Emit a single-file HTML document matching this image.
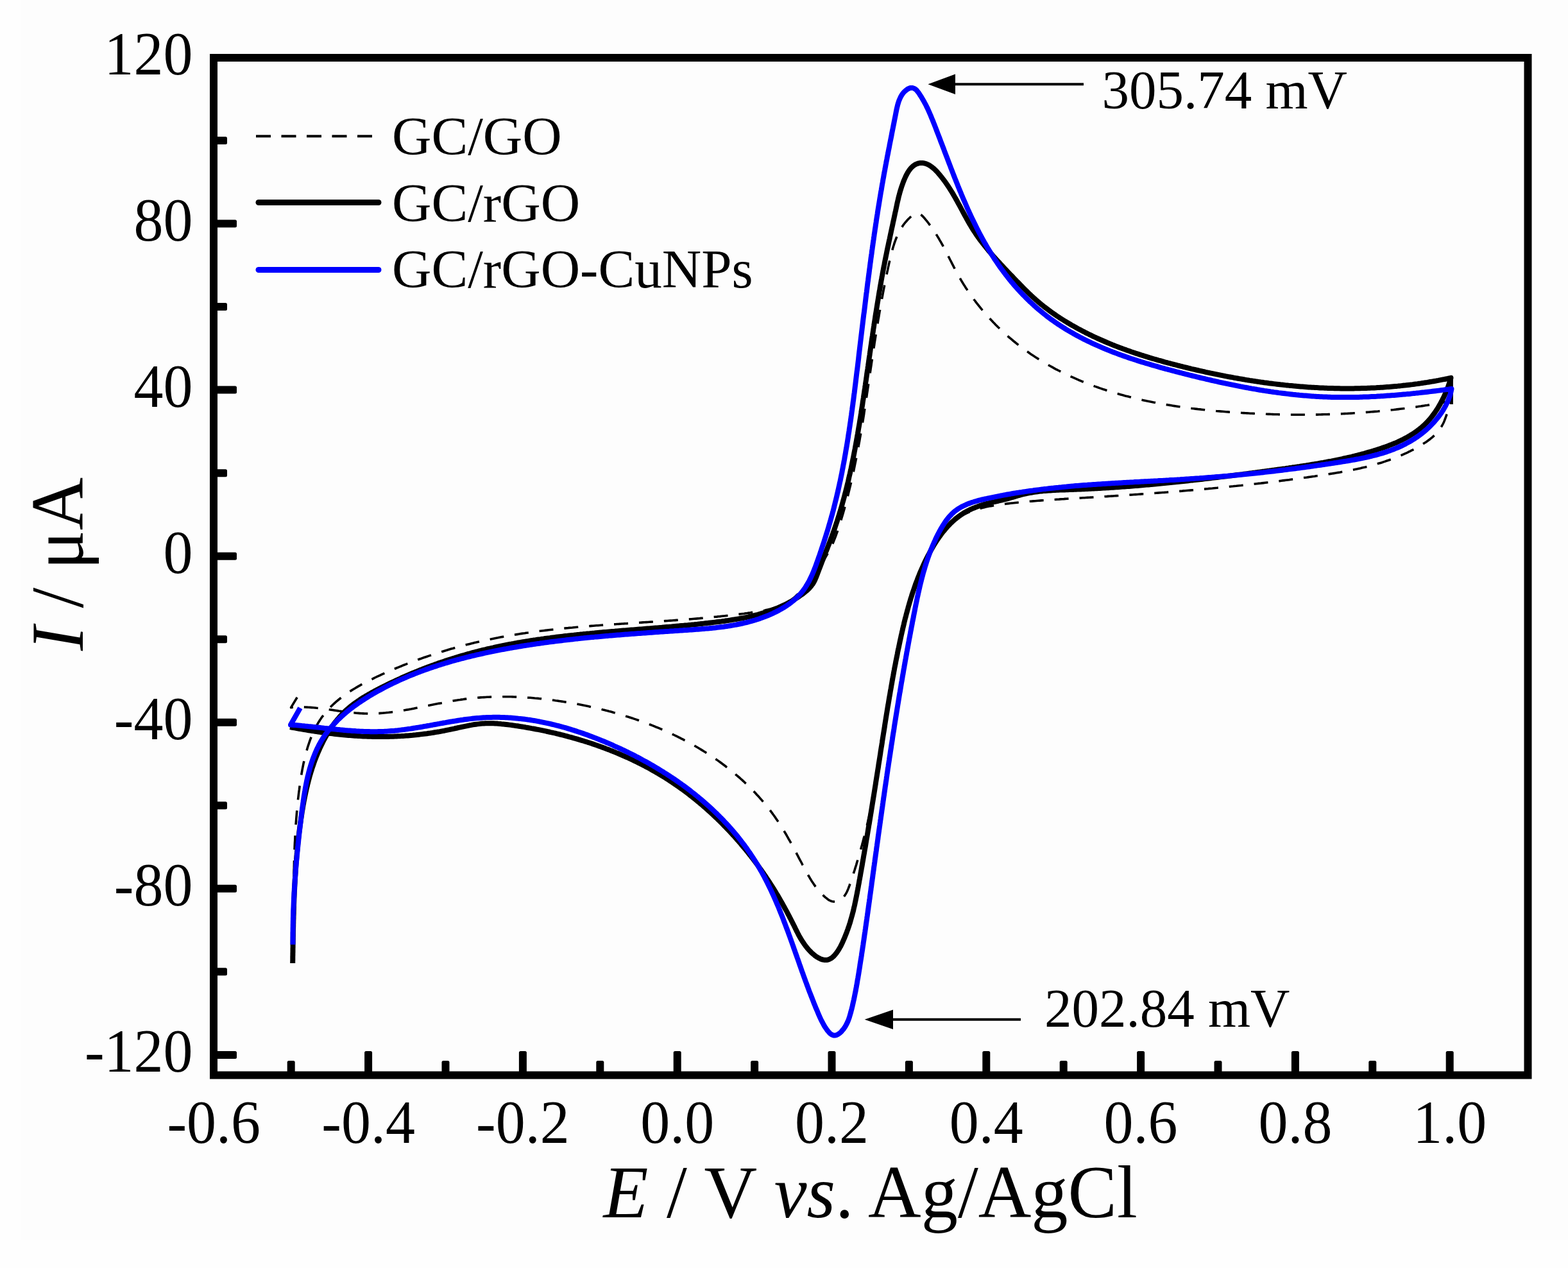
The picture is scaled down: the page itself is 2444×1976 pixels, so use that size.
<!DOCTYPE html>
<html><head><meta charset="utf-8"><title>Cyclic voltammograms</title>
<style>
html,body{margin:0;padding:0;background:#fefefe;}
body{width:2444px;height:1976px;overflow:hidden;}
svg{display:block;}
text{font-family:"Liberation Serif","Times New Roman",serif;fill:#000;}
</style></head><body>
<svg width="2444" height="1976" viewBox="0 0 2444 1976">
<rect x="0" y="0" width="2444" height="1976" fill="#fefefe"/>
<rect x="33" y="0" width="2411" height="1933" fill="#fdfdfd"/>
<g fill="none" stroke-linejoin="round" stroke-linecap="butt">
<path d="M455.5 1480.0 L455.6 1477.4 L455.7 1474.9 L455.8 1472.3 L455.9 1469.8 L456.0 1467.2 L456.1 1464.7 L456.2 1462.1 L456.2 1459.6 L456.3 1457.0 L456.4 1454.5 L456.5 1451.9 L456.5 1449.4 L456.6 1446.9 L456.7 1444.4 L456.7 1441.8 L456.8 1439.3 L456.8 1436.8 L456.9 1434.3 L456.9 1431.8 L457.0 1429.3 L457.0 1426.8 L457.1 1424.3 L457.1 1421.8 L457.2 1419.3 L457.2 1416.8 L457.2 1414.3 L457.3 1411.8 L457.3 1409.3 L457.4 1406.8 L457.4 1404.4 L457.4 1401.9 L457.5 1399.4 L457.5 1396.9 L457.5 1394.4 L457.6 1392.0 L457.6 1389.5 L457.6 1387.0 L457.7 1384.6 L457.7 1382.1 L457.8 1379.6 L457.8 1377.2 L457.8 1374.7 L457.9 1372.2 L457.9 1369.8 L458.0 1367.3 L458.0 1364.8 L458.1 1362.4 L458.1 1359.9 L458.2 1357.5 L458.2 1355.0 L458.3 1352.5 L458.3 1350.1 L458.4 1347.6 L458.4 1345.2 L458.5 1342.7 L458.6 1340.2 L458.6 1337.8 L458.7 1335.3 L458.8 1332.9 L458.9 1330.4 L459.0 1327.9 L459.1 1325.5 L459.1 1323.0 L459.2 1320.5 L459.3 1318.1 L459.4 1315.6 L459.5 1313.2 L459.7 1310.7 L459.8 1308.2 L459.9 1305.8 L460.0 1303.3 L460.2 1300.8 L460.3 1298.3 L460.4 1295.9 L460.6 1293.4 L460.7 1290.9 L460.9 1288.4 L461.0 1286.0 L461.2 1283.5 L461.4 1281.0 L461.6 1278.5 L461.8 1276.0 L462.0 1273.5 L462.2 1271.0 L462.4 1268.5 L462.6 1266.0 L462.8 1263.6 L463.0 1261.0 L463.3 1258.5 L463.5 1256.0 L463.8 1253.5 L464.0 1251.0 L464.3 1248.5 L464.5 1246.0 L464.8 1243.5 L465.1 1240.9 L465.4 1238.4 L465.7 1235.9 L466.0 1233.3 L466.4 1230.8 L466.7 1228.3 L467.0 1225.7 L467.4 1223.2 L467.7 1220.6 L468.1 1218.1 L468.5 1215.5 L468.9 1213.0 L469.3 1210.4 L469.7 1207.8 L470.1 1205.3 L470.6 1202.7 L471.0 1200.2 L471.5 1197.6 L472.0 1195.1 L472.5 1192.6 L473.0 1190.0 L473.6 1187.5 L474.1 1185.0 L474.7 1182.5 L475.3 1180.0 L475.9 1177.5 L476.5 1175.0 L477.2 1172.6 L477.9 1170.1 L478.6 1167.7 L479.3 1165.2 L480.1 1162.8 L480.9 1160.4 L481.7 1158.0 L482.5 1155.6 L483.3 1153.3 L484.2 1151.0 L485.1 1148.6 L486.1 1146.3 L487.0 1144.1 L488.0 1141.8 L489.1 1139.6 L490.1 1137.4 L491.2 1135.2 L492.3 1133.0 L493.5 1130.8 L494.7 1128.7 L495.9 1126.6 L497.2 1124.6 L498.4 1122.5 L499.8 1120.5 L501.1 1118.5 L502.5 1116.6 L504.0 1114.7 L505.4 1112.8 L507.0 1110.9 L508.5 1109.0 L510.1 1107.2 L511.7 1105.5 L513.3 1103.7 L515.0 1102.0 L516.7 1100.3 L518.5 1098.6 L520.2 1096.9 L522.0 1095.3 L523.8 1093.7 L525.7 1092.1 L527.6 1090.5 L529.5 1089.0 L531.4 1087.5 L533.3 1086.0 L535.3 1084.5 L537.3 1083.1 L539.3 1081.6 L541.4 1080.2 L543.4 1078.8 L545.5 1077.5 L547.6 1076.1 L549.7 1074.8 L551.9 1073.5 L554.0 1072.2 L556.2 1070.9 L558.4 1069.6 L560.6 1068.4 L562.8 1067.1 L565.0 1065.9 L567.2 1064.7 L569.5 1063.5 L571.8 1062.3 L574.0 1061.2 L576.3 1060.0 L578.6 1058.9 L580.9 1057.8 L583.2 1056.6 L585.5 1055.5 L587.8 1054.4 L590.1 1053.4 L592.4 1052.3 L594.8 1051.2 L597.1 1050.2 L599.4 1049.1 L601.7 1048.1 L604.1 1047.0 L606.4 1046.0 L608.7 1045.0 L611.1 1044.0 L613.4 1043.0 L615.8 1042.0 L618.1 1041.0 L620.4 1040.1 L622.8 1039.1 L625.1 1038.2 L627.5 1037.2 L629.8 1036.3 L632.2 1035.3 L634.5 1034.4 L636.9 1033.5 L639.3 1032.6 L641.6 1031.7 L644.0 1030.8 L646.3 1029.9 L648.7 1029.1 L651.1 1028.2 L653.4 1027.3 L655.8 1026.5 L658.2 1025.6 L660.5 1024.8 L662.9 1024.0 L665.3 1023.2 L667.7 1022.4 L670.0 1021.6 L672.4 1020.8 L674.8 1020.0 L677.2 1019.2 L679.6 1018.4 L682.0 1017.7 L684.4 1016.9 L686.7 1016.2 L689.1 1015.4 L691.5 1014.7 L693.9 1014.0 L696.3 1013.3 L698.7 1012.5 L701.1 1011.8 L703.5 1011.1 L705.9 1010.5 L708.3 1009.8 L710.7 1009.1 L713.1 1008.4 L715.5 1007.8 L717.9 1007.1 L720.4 1006.5 L722.8 1005.9 L725.2 1005.2 L727.6 1004.6 L730.0 1004.0 L732.4 1003.4 L734.9 1002.8 L737.3 1002.2 L739.7 1001.6 L742.1 1001.1 L744.5 1000.5 L747.0 999.9 L749.4 999.4 L751.8 998.8 L754.3 998.3 L756.7 997.8 L759.1 997.2 L761.6 996.7 L764.0 996.2 L766.4 995.7 L768.9 995.2 L771.3 994.7 L773.7 994.2 L776.2 993.8 L778.6 993.3 L781.1 992.8 L783.5 992.4 L786.0 991.9 L788.4 991.5 L790.9 991.0 L793.3 990.6 L795.8 990.2 L798.2 989.8 L800.7 989.4 L803.1 989.0 L805.6 988.6 L808.0 988.2 L810.5 987.8 L813.0 987.4 L815.4 987.0 L817.9 986.7 L820.4 986.3 L822.8 986.0 L825.3 985.6 L827.8 985.3 L830.2 984.9 L832.7 984.6 L835.2 984.3 L837.6 983.9 L840.1 983.6 L842.6 983.3 L845.0 983.0 L847.5 982.7 L850.0 982.4 L852.5 982.1 L854.9 981.8 L857.4 981.5 L859.9 981.2 L862.4 981.0 L864.9 980.7 L867.3 980.4 L869.8 980.2 L872.3 979.9 L874.8 979.6 L877.3 979.4 L879.8 979.1 L882.2 978.9 L884.7 978.7 L887.2 978.4 L889.7 978.2 L892.2 978.0 L894.7 977.7 L897.2 977.5 L899.7 977.3 L902.2 977.1 L904.6 976.8 L907.1 976.6 L909.6 976.4 L912.1 976.2 L914.6 976.0 L917.1 975.8 L919.6 975.6 L922.1 975.4 L924.6 975.2 L927.1 975.0 L929.6 974.8 L932.1 974.7 L934.6 974.5 L937.1 974.3 L939.6 974.1 L942.1 973.9 L944.6 973.7 L947.1 973.6 L949.6 973.4 L952.1 973.2 L954.6 973.1 L957.1 972.9 L959.6 972.7 L962.1 972.5 L964.6 972.4 L967.1 972.2 L969.6 972.0 L972.1 971.9 L974.6 971.7 L977.1 971.6 L979.6 971.4 L982.1 971.2 L984.6 971.1 L987.1 970.9 L989.6 970.7 L992.1 970.6 L994.7 970.4 L997.2 970.3 L999.7 970.1 L1002.2 969.9 L1004.7 969.8 L1007.2 969.6 L1009.7 969.5 L1012.2 969.3 L1014.7 969.1 L1017.2 969.0 L1019.7 968.8 L1022.2 968.7 L1024.7 968.5 L1027.2 968.3 L1029.7 968.2 L1032.2 968.0 L1034.7 967.8 L1037.3 967.6 L1039.8 967.5 L1042.3 967.3 L1044.8 967.1 L1047.3 967.0 L1049.8 966.8 L1052.3 966.6 L1054.8 966.4 L1057.3 966.2 L1059.8 966.0 L1062.3 965.9 L1064.8 965.7 L1067.3 965.5 L1069.8 965.3 L1072.3 965.1 L1074.8 964.9 L1077.3 964.7 L1079.8 964.5 L1082.3 964.3 L1084.8 964.1 L1087.3 963.9 L1089.8 963.7 L1092.3 963.4 L1094.8 963.2 L1097.3 963.0 L1099.8 962.8 L1102.3 962.5 L1104.8 962.3 L1107.3 962.1 L1109.8 961.8 L1112.3 961.6 L1114.8 961.3 L1117.3 961.1 L1119.8 960.8 L1122.3 960.6 L1124.8 960.3 L1127.3 960.0 L1129.8 959.8 L1132.3 959.5 L1134.8 959.2 L1137.3 958.9 L1139.8 958.6 L1142.3 958.3 L1144.8 958.0 L1147.3 957.7 L1149.7 957.4 L1152.2 957.1 L1154.7 956.8 L1157.2 956.5 L1159.7 956.2 L1162.2 955.8 L1164.7 955.5 L1167.2 955.1 L1169.6 954.8 L1172.1 954.4 L1174.6 954.1 L1177.1 953.7 L1179.6 953.3 L1182.0 952.9 L1184.5 952.5 L1187.0 952.1 L1189.4 951.6 L1191.8 951.2 L1194.3 950.6 L1196.7 950.1 L1199.1 949.5 L1201.4 948.9 L1203.8 948.3 L1206.2 947.6 L1208.5 946.9 L1210.8 946.1 L1213.1 945.3 L1215.3 944.4 L1217.6 943.5 L1219.8 942.5 L1221.9 941.5 L1224.1 940.4 L1226.2 939.3 L1228.3 938.0 L1230.4 936.7 L1232.4 935.4 L1234.4 933.9 L1236.3 932.4 L1238.2 930.8 L1240.1 929.1 L1241.9 927.4 L1243.7 925.6 L1245.5 923.6 L1247.2 921.7 L1248.9 919.7 L1250.5 917.6 L1252.2 915.5 L1253.8 913.4 L1255.4 911.3 L1257.0 909.1 L1258.5 906.9 L1260.1 904.8 L1261.6 902.6 L1263.1 900.5 L1264.6 898.3 L1266.2 896.2 L1267.7 894.2 L1269.2 892.2 L1270.7 890.2 L1272.2 888.2 L1273.7 886.3 L1275.1 884.3 L1276.6 882.4 L1278.0 880.5 L1279.5 878.6 L1280.9 876.7 L1282.3 874.8 L1283.6 872.8 L1285.0 870.9 L1286.3 868.9 L1287.5 867.0 L1288.8 864.9 L1290.0 862.9 L1291.2 860.8 L1292.3 858.7 L1293.5 856.6 L1294.5 854.4 L1295.6 852.2 L1296.6 850.0 L1297.6 847.8 L1298.6 845.5 L1299.6 843.2 L1300.5 840.9 L1301.4 838.6 L1302.3 836.3 L1303.2 833.9 L1304.0 831.5 L1304.9 829.2 L1305.7 826.8 L1306.5 824.4 L1307.3 822.0 L1308.1 819.6 L1308.8 817.2 L1309.6 814.7 L1310.4 812.3 L1311.1 809.9 L1311.8 807.5 L1312.6 805.0 L1313.3 802.6 L1314.0 800.2 L1314.7 797.8 L1315.4 795.3 L1316.1 792.9 L1316.7 790.5 L1317.4 788.0 L1318.1 785.6 L1318.7 783.2 L1319.4 780.7 L1320.0 778.3 L1320.7 775.9 L1321.3 773.4 L1321.9 771.0 L1322.5 768.6 L1323.1 766.1 L1323.7 763.7 L1324.3 761.2 L1324.9 758.8 L1325.5 756.3 L1326.1 753.9 L1326.6 751.5 L1327.2 749.0 L1327.8 746.6 L1328.3 744.1 L1328.9 741.7 L1329.4 739.2 L1329.9 736.8 L1330.5 734.3 L1331.0 731.9 L1331.5 729.4 L1332.0 727.0 L1332.5 724.5 L1333.0 722.0 L1333.5 719.6 L1334.0 717.1 L1334.5 714.7 L1335.0 712.2 L1335.5 709.8 L1335.9 707.3 L1336.4 704.8 L1336.9 702.4 L1337.3 699.9 L1337.8 697.5 L1338.2 695.0 L1338.7 692.5 L1339.1 690.1 L1339.6 687.6 L1340.0 685.2 L1340.4 682.7 L1340.9 680.2 L1341.3 677.8 L1341.7 675.3 L1342.1 672.8 L1342.5 670.4 L1343.0 667.9 L1343.4 665.4 L1343.8 663.0 L1344.2 660.5 L1344.6 658.0 L1345.0 655.6 L1345.4 653.1 L1345.8 650.6 L1346.2 648.2 L1346.6 645.7 L1346.9 643.2 L1347.3 640.8 L1347.7 638.3 L1348.1 635.8 L1348.5 633.4 L1348.8 630.9 L1349.2 628.4 L1349.6 626.0 L1350.0 623.5 L1350.3 621.0 L1350.7 618.5 L1351.1 616.1 L1351.4 613.6 L1351.8 611.1 L1352.2 608.7 L1352.5 606.2 L1352.9 603.7 L1353.3 601.3 L1353.6 598.8 L1354.0 596.3 L1354.4 593.8 L1354.7 591.4 L1355.1 588.9 L1355.4 586.4 L1355.8 584.0 L1356.2 581.5 L1356.5 579.0 L1356.9 576.6 L1357.2 574.1 L1357.6 571.6 L1358.0 569.2 L1358.3 566.7 L1358.7 564.2 L1359.1 561.8 L1359.4 559.3 L1359.8 556.8 L1360.2 554.4 L1360.5 551.9 L1360.9 549.4 L1361.3 547.0 L1361.6 544.5 L1362.0 542.0 L1362.4 539.6 L1362.8 537.1 L1363.1 534.6 L1363.5 532.2 L1363.9 529.7 L1364.3 527.2 L1364.7 524.8 L1365.1 522.3 L1365.4 519.8 L1365.8 517.4 L1366.2 514.9 L1366.6 512.4 L1367.0 510.0 L1367.4 507.5 L1367.8 505.0 L1368.2 502.6 L1368.6 500.1 L1369.0 497.7 L1369.5 495.2 L1369.9 492.7 L1370.3 490.3 L1370.7 487.8 L1371.1 485.3 L1371.6 482.9 L1372.0 480.4 L1372.4 477.9 L1372.9 475.5 L1373.3 473.0 L1373.8 470.5 L1374.2 468.1 L1374.6 465.6 L1375.1 463.1 L1375.6 460.6 L1376.0 458.2 L1376.5 455.7 L1377.0 453.2 L1377.4 450.8 L1377.9 448.3 L1378.4 445.8 L1378.9 443.4 L1379.4 440.9 L1379.9 438.4 L1380.4 435.9 L1380.9 433.5 L1381.4 431.0 L1381.9 428.5 L1382.4 426.0 L1382.9 423.6 L1383.5 421.1 L1384.0 418.6 L1384.5 416.1 L1385.1 413.7 L1385.6 411.2 L1386.2 408.7 L1386.8 406.2 L1387.3 403.8 L1387.9 401.3 L1388.5 398.8 L1389.1 396.4 L1389.7 393.9 L1390.4 391.4 L1391.0 389.0 L1391.7 386.6 L1392.4 384.2 L1393.2 381.8 L1393.9 379.4 L1394.8 377.0 L1395.6 374.7 L1396.5 372.3 L1397.4 370.0 L1398.4 367.7 L1399.4 365.5 L1400.5 363.3 L1401.6 361.1 L1402.8 358.9 L1404.0 356.8 L1405.3 354.6 L1406.7 352.6 L1408.1 350.5 L1409.6 348.5 L1411.1 346.6 L1412.8 344.7 L1414.5 342.8 L1416.2 341.0 L1418.1 339.2 L1420.0 337.5 L1422.0 335.8 L1424.1 334.4 L1426.2 333.3 L1428.2 332.6 L1430.3 332.4 L1432.3 332.8 L1434.2 333.7 L1436.1 335.1 L1438.0 336.8 L1439.8 338.8 L1441.6 340.8 L1443.3 342.9 L1445.0 344.9 L1446.6 347.0 L1448.2 349.1 L1449.8 351.2 L1451.3 353.2 L1452.8 355.4 L1454.2 357.5 L1455.7 359.6 L1457.1 361.7 L1458.4 363.8 L1459.8 366.0 L1461.1 368.1 L1462.4 370.2 L1463.7 372.4 L1464.9 374.6 L1466.2 376.7 L1467.4 378.9 L1468.6 381.0 L1469.8 383.2 L1470.9 385.4 L1472.1 387.6 L1473.2 389.7 L1474.4 391.9 L1475.5 394.1 L1476.6 396.3 L1477.7 398.5 L1478.8 400.6 L1479.9 402.8 L1481.0 405.0 L1482.2 407.2 L1483.3 409.4 L1484.4 411.6 L1485.5 413.7 L1486.6 415.9 L1487.8 418.1 L1488.9 420.3 L1490.1 422.5 L1491.2 424.6 L1492.4 426.8 L1493.6 429.0 L1494.8 431.1 L1496.1 433.3 L1497.3 435.4 L1498.6 437.6 L1499.9 439.7 L1501.2 441.9 L1502.5 444.0 L1503.9 446.1 L1505.2 448.2 L1506.6 450.3 L1508.0 452.5 L1509.4 454.6 L1510.9 456.6 L1512.3 458.7 L1513.8 460.8 L1515.3 462.9 L1516.8 464.9 L1518.3 467.0 L1519.9 469.0 L1521.4 471.1 L1523.0 473.1 L1524.6 475.1 L1526.2 477.1 L1527.8 479.1 L1529.4 481.1 L1531.1 483.1 L1532.7 485.0 L1534.4 487.0 L1536.1 488.9 L1537.8 490.9 L1539.5 492.8 L1541.2 494.7 L1542.9 496.6 L1544.7 498.5 L1546.4 500.3 L1548.2 502.2 L1550.0 504.0 L1551.8 505.9 L1553.6 507.7 L1555.4 509.5 L1557.2 511.2 L1559.0 513.0 L1560.9 514.8 L1562.7 516.5 L1564.6 518.2 L1566.5 519.9 L1568.3 521.6 L1570.2 523.3 L1572.1 525.0 L1574.0 526.6 L1575.9 528.2 L1577.9 529.9 L1579.8 531.5 L1581.7 533.0 L1583.7 534.6 L1585.6 536.2 L1587.6 537.7 L1589.6 539.2 L1591.5 540.8 L1593.5 542.3 L1595.5 543.7 L1597.5 545.2 L1599.5 546.7 L1601.6 548.1 L1603.6 549.5 L1605.6 551.0 L1607.7 552.4 L1609.7 553.7 L1611.8 555.1 L1613.8 556.5 L1615.9 557.8 L1618.0 559.1 L1620.1 560.5 L1622.2 561.8 L1624.3 563.1 L1626.4 564.3 L1628.5 565.6 L1630.6 566.9 L1632.8 568.1 L1634.9 569.3 L1637.0 570.5 L1639.2 571.7 L1641.4 572.9 L1643.5 574.1 L1645.7 575.3 L1647.9 576.4 L1650.1 577.5 L1652.3 578.7 L1654.4 579.8 L1656.7 580.9 L1658.9 582.0 L1661.1 583.0 L1663.3 584.1 L1665.5 585.1 L1667.8 586.2 L1670.0 587.2 L1672.3 588.2 L1674.5 589.2 L1676.8 590.2 L1679.0 591.2 L1681.3 592.2 L1683.6 593.1 L1685.9 594.1 L1688.1 595.0 L1690.4 595.9 L1692.7 596.8 L1695.0 597.7 L1697.3 598.6 L1699.6 599.5 L1702.0 600.4 L1704.3 601.2 L1706.6 602.1 L1708.9 602.9 L1711.3 603.7 L1713.6 604.6 L1716.0 605.4 L1718.3 606.2 L1720.7 606.9 L1723.0 607.7 L1725.4 608.5 L1727.8 609.2 L1730.1 610.0 L1732.5 610.7 L1734.9 611.4 L1737.3 612.1 L1739.7 612.8 L1742.1 613.5 L1744.5 614.2 L1746.9 614.9 L1749.3 615.6 L1751.7 616.2 L1754.1 616.9 L1756.5 617.5 L1758.9 618.1 L1761.4 618.7 L1763.8 619.3 L1766.2 619.9 L1768.7 620.5 L1771.1 621.1 L1773.5 621.7 L1776.0 622.3 L1778.4 622.8 L1780.9 623.4 L1783.3 623.9 L1785.8 624.4 L1788.2 625.0 L1790.7 625.5 L1793.2 626.0 L1795.6 626.5 L1798.1 627.0 L1800.6 627.4 L1803.1 627.9 L1805.5 628.4 L1808.0 628.8 L1810.5 629.3 L1813.0 629.7 L1815.5 630.2 L1818.0 630.6 L1820.4 631.0 L1822.9 631.4 L1825.4 631.8 L1827.9 632.2 L1830.4 632.6 L1832.9 633.0 L1835.4 633.4 L1837.9 633.7 L1840.4 634.1 L1842.9 634.5 L1845.5 634.8 L1848.0 635.2 L1850.5 635.5 L1853.0 635.8 L1855.5 636.1 L1858.0 636.5 L1860.5 636.8 L1863.0 637.1 L1865.6 637.4 L1868.1 637.7 L1870.6 637.9 L1873.1 638.2 L1875.6 638.5 L1878.2 638.8 L1880.7 639.0 L1883.2 639.3 L1885.7 639.5 L1888.2 639.8 L1890.8 640.0 L1893.3 640.2 L1895.8 640.5 L1898.3 640.7 L1900.9 640.9 L1903.4 641.1 L1905.9 641.3 L1908.4 641.5 L1910.9 641.7 L1913.5 641.9 L1916.0 642.1 L1918.5 642.3 L1921.0 642.5 L1923.6 642.7 L1926.1 642.8 L1928.6 643.0 L1931.1 643.2 L1933.6 643.3 L1936.2 643.5 L1938.7 643.6 L1941.2 643.8 L1943.7 643.9 L1946.2 644.0 L1948.7 644.2 L1951.2 644.3 L1953.7 644.4 L1956.3 644.5 L1958.8 644.7 L1961.3 644.8 L1963.8 644.9 L1966.3 645.0 L1968.8 645.1 L1971.3 645.2 L1973.8 645.3 L1976.3 645.4 L1978.8 645.4 L1981.3 645.5 L1983.8 645.6 L1986.3 645.7 L1988.8 645.7 L1991.3 645.8 L1993.8 645.9 L1996.3 645.9 L1998.8 646.0 L2001.3 646.0 L2003.8 646.1 L2006.2 646.1 L2008.7 646.1 L2011.2 646.2 L2013.7 646.2 L2016.2 646.2 L2018.7 646.2 L2021.2 646.3 L2023.7 646.3 L2026.2 646.3 L2028.6 646.3 L2031.1 646.3 L2033.6 646.3 L2036.1 646.3 L2038.6 646.2 L2041.1 646.2 L2043.5 646.2 L2046.0 646.2 L2048.5 646.1 L2051.0 646.1 L2053.5 646.1 L2055.9 646.0 L2058.4 646.0 L2060.9 645.9 L2063.4 645.8 L2065.9 645.8 L2068.3 645.7 L2070.8 645.6 L2073.3 645.6 L2075.8 645.5 L2078.2 645.4 L2080.7 645.3 L2083.2 645.2 L2085.7 645.1 L2088.1 645.0 L2090.6 644.9 L2093.1 644.8 L2095.6 644.6 L2098.0 644.5 L2100.5 644.4 L2103.0 644.2 L2105.5 644.1 L2107.9 644.0 L2110.4 643.8 L2112.9 643.7 L2115.4 643.5 L2117.8 643.3 L2120.3 643.2 L2122.8 643.0 L2125.3 642.8 L2127.8 642.6 L2130.2 642.4 L2132.7 642.2 L2135.2 642.0 L2137.7 641.8 L2140.1 641.6 L2142.6 641.4 L2145.1 641.2 L2147.6 641.0 L2150.0 640.7 L2152.5 640.5 L2155.0 640.3 L2157.5 640.0 L2159.9 639.8 L2162.4 639.5 L2164.9 639.3 L2167.4 639.0 L2169.9 638.7 L2172.3 638.5 L2174.8 638.2 L2177.3 637.9 L2179.8 637.6 L2182.3 637.3 L2184.7 637.0 L2187.2 636.7 L2189.7 636.4 L2192.2 636.1 L2194.7 635.7 L2197.2 635.4 L2199.7 635.1 L2202.1 634.7 L2204.6 634.4 L2207.1 634.1 L2209.6 633.7 L2212.1 633.3 L2214.6 633.0 L2217.1 632.6 L2219.6 632.2 L2222.0 631.8 L2224.5 631.5 L2227.0 631.1 L2229.5 630.7 L2232.0 630.3 L2234.5 629.9 L2237.0 629.4 L2239.5 629.0 L2242.0 628.6 L2244.5 628.2 L2247.0 627.7 L2249.5 627.3 L2252.0 626.8 L2254.5 626.4 L2257.0 625.9 L2259.5 625.4 L2262.0 625.0 L2261.1 627.3 L2260.3 629.6 L2259.4 631.9 L2258.7 634.3 L2257.9 636.7 L2257.1 639.1 L2256.3 641.5 L2255.6 643.9 L2254.8 646.3 L2253.9 648.8 L2253.1 651.2 L2252.2 653.5 L2251.3 655.9 L2250.3 658.2 L2249.2 660.5 L2248.0 662.7 L2246.8 664.8 L2245.5 666.9 L2244.1 669.0 L2242.6 670.9 L2241.1 672.8 L2239.5 674.7 L2237.7 676.5 L2236.0 678.2 L2234.2 679.9 L2232.3 681.6 L2230.3 683.2 L2228.4 684.8 L2226.3 686.3 L2224.3 687.7 L2222.2 689.2 L2220.0 690.6 L2217.9 692.0 L2215.7 693.3 L2213.5 694.6 L2211.3 695.9 L2209.1 697.2 L2206.9 698.4 L2204.7 699.6 L2202.5 700.8 L2200.2 701.9 L2198.0 703.1 L2195.7 704.2 L2193.5 705.3 L2191.2 706.3 L2188.9 707.4 L2186.7 708.4 L2184.4 709.4 L2182.1 710.4 L2179.8 711.4 L2177.5 712.3 L2175.2 713.2 L2172.8 714.1 L2170.5 715.0 L2168.2 715.9 L2165.8 716.7 L2163.5 717.5 L2161.1 718.3 L2158.8 719.1 L2156.4 719.9 L2154.1 720.7 L2151.7 721.4 L2149.3 722.1 L2146.9 722.8 L2144.6 723.5 L2142.2 724.2 L2139.8 724.9 L2137.4 725.5 L2135.0 726.1 L2132.6 726.8 L2130.2 727.4 L2127.7 728.0 L2125.3 728.5 L2122.9 729.1 L2120.5 729.7 L2118.0 730.2 L2115.6 730.8 L2113.2 731.3 L2110.7 731.8 L2108.3 732.3 L2105.8 732.8 L2103.4 733.3 L2100.9 733.7 L2098.5 734.2 L2096.0 734.7 L2093.6 735.1 L2091.1 735.5 L2088.6 736.0 L2086.2 736.4 L2083.7 736.8 L2081.2 737.2 L2078.8 737.6 L2076.3 738.0 L2073.8 738.4 L2071.3 738.8 L2068.9 739.2 L2066.4 739.6 L2063.9 740.0 L2061.4 740.3 L2059.0 740.7 L2056.5 741.1 L2054.0 741.5 L2051.5 741.8 L2049.0 742.2 L2046.5 742.5 L2044.1 742.9 L2041.6 743.2 L2039.1 743.6 L2036.6 744.0 L2034.1 744.3 L2031.6 744.6 L2029.2 745.0 L2026.7 745.3 L2024.2 745.7 L2021.7 746.0 L2019.2 746.3 L2016.7 746.7 L2014.2 747.0 L2011.8 747.3 L2009.3 747.7 L2006.8 748.0 L2004.3 748.3 L2001.8 748.6 L1999.3 748.9 L1996.8 749.2 L1994.3 749.6 L1991.8 749.9 L1989.3 750.2 L1986.9 750.5 L1984.4 750.8 L1981.9 751.1 L1979.4 751.4 L1976.9 751.7 L1974.4 752.0 L1971.9 752.3 L1969.4 752.6 L1966.9 752.9 L1964.4 753.2 L1961.9 753.4 L1959.4 753.7 L1956.9 754.0 L1954.5 754.3 L1952.0 754.6 L1949.5 754.8 L1947.0 755.1 L1944.5 755.4 L1942.0 755.7 L1939.5 755.9 L1937.0 756.2 L1934.5 756.5 L1932.0 756.7 L1929.5 757.0 L1927.0 757.3 L1924.5 757.5 L1922.0 757.8 L1919.5 758.0 L1917.0 758.3 L1914.5 758.5 L1912.0 758.8 L1909.5 759.0 L1907.0 759.3 L1904.5 759.5 L1902.0 759.8 L1899.5 760.0 L1897.0 760.3 L1894.6 760.5 L1892.1 760.7 L1889.6 761.0 L1887.1 761.2 L1884.6 761.4 L1882.1 761.7 L1879.6 761.9 L1877.1 762.1 L1874.6 762.3 L1872.1 762.6 L1869.6 762.8 L1867.1 763.0 L1864.6 763.2 L1862.1 763.5 L1859.6 763.7 L1857.1 763.9 L1854.6 764.1 L1852.1 764.3 L1849.6 764.5 L1847.1 764.7 L1844.6 764.9 L1842.1 765.2 L1839.6 765.4 L1837.1 765.6 L1834.6 765.8 L1832.1 766.0 L1829.6 766.2 L1827.1 766.4 L1824.6 766.6 L1822.2 766.8 L1819.7 767.0 L1817.2 767.2 L1814.7 767.4 L1812.2 767.5 L1809.7 767.7 L1807.2 767.9 L1804.7 768.1 L1802.2 768.3 L1799.7 768.5 L1797.2 768.7 L1794.7 768.9 L1792.2 769.0 L1789.7 769.2 L1787.2 769.4 L1784.7 769.6 L1782.3 769.8 L1779.8 769.9 L1777.3 770.1 L1774.8 770.3 L1772.3 770.5 L1769.8 770.6 L1767.3 770.8 L1764.8 771.0 L1762.3 771.1 L1759.8 771.3 L1757.3 771.5 L1754.9 771.7 L1752.4 771.8 L1749.9 772.0 L1747.4 772.1 L1744.9 772.3 L1742.4 772.5 L1739.9 772.6 L1737.4 772.8 L1735.0 773.0 L1732.5 773.1 L1730.0 773.3 L1727.5 773.4 L1725.0 773.6 L1722.5 773.7 L1720.1 773.9 L1717.6 774.0 L1715.1 774.2 L1712.6 774.4 L1710.1 774.5 L1707.6 774.7 L1705.2 774.8 L1702.7 775.0 L1700.2 775.1 L1697.7 775.3 L1695.2 775.4 L1692.8 775.5 L1690.3 775.7 L1687.8 775.8 L1685.3 776.0 L1682.8 776.1 L1680.4 776.3 L1677.9 776.4 L1675.4 776.6 L1672.9 776.7 L1670.5 776.9 L1668.0 777.0 L1665.5 777.1 L1663.0 777.3 L1660.5 777.4 L1658.1 777.6 L1655.6 777.7 L1653.1 777.9 L1650.6 778.1 L1648.1 778.2 L1645.6 778.4 L1643.2 778.5 L1640.7 778.7 L1638.2 778.9 L1635.7 779.0 L1633.2 779.2 L1630.7 779.4 L1628.2 779.6 L1625.7 779.7 L1623.2 779.9 L1620.7 780.1 L1618.2 780.3 L1615.6 780.5 L1613.1 780.7 L1610.6 780.9 L1608.1 781.1 L1605.6 781.3 L1603.0 781.6 L1600.5 781.8 L1598.0 782.0 L1595.4 782.2 L1592.9 782.5 L1590.4 782.7 L1587.8 783.0 L1585.3 783.2 L1582.7 783.5 L1580.1 783.8 L1577.6 784.0 L1575.0 784.3 L1572.4 784.6 L1569.8 784.9 L1567.3 785.2 L1564.7 785.5 L1562.1 785.9 L1559.5 786.2 L1556.9 786.6 L1554.4 786.9 L1551.8 787.3 L1549.2 787.7 L1546.7 788.2 L1544.2 788.6 L1541.6 789.1 L1539.1 789.6 L1536.6 790.1 L1534.1 790.7 L1531.6 791.3 L1529.2 791.9 L1526.7 792.5 L1524.3 793.2 L1521.9 793.9 L1519.5 794.7 L1517.2 795.4 L1514.9 796.3 L1512.5 797.1 L1510.3 798.0 L1508.0 799.0 L1505.8 800.0 L1503.6 801.0 L1501.5 802.1 L1499.4 803.3 L1497.3 804.4 L1495.2 805.7 L1493.2 807.0 L1491.3 808.3 L1489.3 809.7 L1487.4 811.2 L1485.6 812.7 L1483.8 814.2 L1482.0 815.8 L1480.2 817.4 L1478.5 819.1 L1476.8 820.8 L1475.1 822.5 L1473.5 824.3 L1471.9 826.2 L1470.4 828.0 L1468.8 829.9 L1467.3 831.8 L1465.8 833.8 L1464.4 835.8 L1462.9 837.8 L1461.5 839.9 L1460.2 841.9 L1458.8 844.0 L1457.5 846.2 L1456.2 848.3 L1454.9 850.5 L1453.6 852.7 L1452.4 854.9 L1451.1 857.1 L1449.9 859.3 L1448.8 861.6 L1447.6 863.9 L1446.4 866.1 L1445.3 868.4 L1444.2 870.7 L1443.1 873.0 L1442.0 875.3 L1440.9 877.6 L1439.9 879.9 L1438.9 882.3 L1437.8 884.6 L1436.8 886.9 L1435.8 889.2 L1434.8 891.6 L1433.8 893.9 L1432.9 896.2 L1431.9 898.6 L1431.0 900.9 L1430.1 903.3 L1429.2 905.6 L1428.3 908.0 L1427.4 910.3 L1426.5 912.7 L1425.6 915.1 L1424.8 917.4 L1423.9 919.8 L1423.1 922.2 L1422.3 924.5 L1421.5 926.9 L1420.7 929.3 L1419.9 931.7 L1419.1 934.1 L1418.3 936.4 L1417.6 938.8 L1416.8 941.2 L1416.1 943.6 L1415.4 946.0 L1414.7 948.4 L1414.0 950.8 L1413.3 953.2 L1412.6 955.6 L1411.9 958.0 L1411.2 960.4 L1410.6 962.8 L1409.9 965.3 L1409.3 967.7 L1408.6 970.1 L1408.0 972.5 L1407.4 974.9 L1406.8 977.4 L1406.2 979.8 L1405.6 982.2 L1405.0 984.6 L1404.4 987.1 L1403.9 989.5 L1403.3 991.9 L1402.8 994.4 L1402.2 996.8 L1401.7 999.2 L1401.1 1001.7 L1400.6 1004.1 L1400.1 1006.6 L1399.6 1009.0 L1399.1 1011.5 L1398.6 1013.9 L1398.1 1016.4 L1397.6 1018.8 L1397.1 1021.3 L1396.6 1023.7 L1396.2 1026.2 L1395.7 1028.6 L1395.2 1031.1 L1394.8 1033.5 L1394.3 1036.0 L1393.9 1038.5 L1393.5 1040.9 L1393.0 1043.4 L1392.6 1045.9 L1392.2 1048.3 L1391.7 1050.8 L1391.3 1053.3 L1390.9 1055.7 L1390.5 1058.2 L1390.1 1060.7 L1389.7 1063.1 L1389.3 1065.6 L1388.9 1068.1 L1388.5 1070.5 L1388.1 1073.0 L1387.7 1075.5 L1387.3 1078.0 L1386.9 1080.4 L1386.6 1082.9 L1386.2 1085.4 L1385.8 1087.8 L1385.4 1090.3 L1385.1 1092.8 L1384.7 1095.3 L1384.3 1097.8 L1383.9 1100.2 L1383.6 1102.7 L1383.2 1105.2 L1382.9 1107.7 L1382.5 1110.1 L1382.1 1112.6 L1381.8 1115.1 L1381.4 1117.6 L1381.0 1120.0 L1380.7 1122.5 L1380.3 1125.0 L1380.0 1127.5 L1379.6 1129.9 L1379.2 1132.4 L1378.9 1134.9 L1378.5 1137.4 L1378.2 1139.8 L1377.8 1142.3 L1377.4 1144.8 L1377.1 1147.3 L1376.7 1149.7 L1376.3 1152.2 L1376.0 1154.7 L1375.6 1157.1 L1375.2 1159.6 L1374.9 1162.1 L1374.5 1164.6 L1374.1 1167.0 L1373.7 1169.5 L1373.4 1172.0 L1373.0 1174.4 L1372.6 1176.9 L1372.2 1179.4 L1371.8 1181.8 L1371.4 1184.3 L1371.0 1186.7 L1370.6 1189.2 L1370.2 1191.7 L1369.8 1194.1 L1369.4 1196.6 L1369.0 1199.0 L1368.5 1201.5 L1368.1 1203.9 L1367.7 1206.4 L1367.3 1208.8 L1366.8 1211.3 L1366.4 1213.8 L1365.9 1216.2 L1365.5 1218.7 L1365.1 1221.1 L1364.6 1223.6 L1364.1 1226.0 L1363.7 1228.4 L1363.2 1230.9 L1362.7 1233.3 L1362.3 1235.8 L1361.8 1238.2 L1361.3 1240.7 L1360.8 1243.1 L1360.3 1245.6 L1359.8 1248.0 L1359.3 1250.5 L1358.8 1252.9 L1358.3 1255.3 L1357.8 1257.8 L1357.3 1260.2 L1356.7 1262.7 L1356.2 1265.1 L1355.7 1267.6 L1355.1 1270.0 L1354.6 1272.4 L1354.0 1274.9 L1353.4 1277.3 L1352.9 1279.8 L1352.3 1282.2 L1351.7 1284.6 L1351.1 1287.1 L1350.5 1289.5 L1350.0 1292.0 L1349.4 1294.4 L1348.7 1296.9 L1348.1 1299.3 L1347.5 1301.7 L1346.9 1304.2 L1346.2 1306.6 L1345.6 1309.1 L1345.0 1311.5 L1344.3 1313.9 L1343.7 1316.4 L1343.0 1318.8 L1342.3 1321.3 L1341.6 1323.7 L1340.9 1326.2 L1340.3 1328.6 L1339.6 1331.1 L1338.8 1333.5 L1338.1 1335.9 L1337.4 1338.4 L1336.7 1340.8 L1335.9 1343.3 L1335.2 1345.7 L1334.5 1348.2 L1333.7 1350.6 L1332.9 1353.1 L1332.2 1355.5 L1331.4 1358.0 L1330.6 1360.4 L1329.8 1362.9 L1329.0 1365.3 L1328.2 1367.8 L1327.3 1370.2 L1326.5 1372.7 L1325.7 1375.2 L1324.8 1377.6 L1324.0 1380.1 L1323.1 1382.5 L1322.2 1384.9 L1321.2 1387.2 L1320.2 1389.5 L1319.1 1391.6 L1317.9 1393.7 L1316.6 1395.6 L1315.2 1397.4 L1313.7 1399.1 L1312.1 1400.6 L1310.4 1401.9 L1308.5 1403.0 L1306.4 1403.9 L1304.2 1404.6 L1301.9 1405.0 L1299.4 1405.1 L1297.1 1404.7 L1294.8 1404.0 L1292.5 1402.9 L1290.4 1401.5 L1288.4 1399.9 L1286.4 1398.3 L1284.5 1396.6 L1282.6 1394.8 L1280.8 1393.0 L1279.1 1391.2 L1277.4 1389.3 L1275.8 1387.5 L1274.2 1385.5 L1272.6 1383.6 L1271.1 1381.6 L1269.7 1379.6 L1268.3 1377.6 L1266.9 1375.5 L1265.5 1373.5 L1264.2 1371.4 L1262.9 1369.3 L1261.7 1367.2 L1260.4 1365.0 L1259.2 1362.9 L1258.0 1360.7 L1256.8 1358.5 L1255.6 1356.3 L1254.4 1354.1 L1253.2 1351.9 L1252.0 1349.7 L1250.8 1347.5 L1249.7 1345.3 L1248.5 1343.0 L1247.3 1340.8 L1246.1 1338.6 L1244.9 1336.3 L1243.8 1334.1 L1242.6 1331.9 L1241.4 1329.6 L1240.2 1327.4 L1239.0 1325.1 L1237.8 1322.9 L1236.6 1320.7 L1235.4 1318.4 L1234.2 1316.2 L1233.0 1314.0 L1231.7 1311.7 L1230.5 1309.5 L1229.2 1307.3 L1228.0 1305.1 L1226.7 1302.9 L1225.5 1300.7 L1224.2 1298.5 L1222.9 1296.3 L1221.6 1294.2 L1220.3 1292.0 L1218.9 1289.8 L1217.6 1287.7 L1216.2 1285.6 L1214.9 1283.5 L1213.5 1281.3 L1212.1 1279.3 L1210.7 1277.2 L1209.2 1275.1 L1207.8 1273.0 L1206.4 1271.0 L1204.9 1269.0 L1203.4 1266.9 L1201.9 1264.9 L1200.4 1262.9 L1198.9 1261.0 L1197.3 1259.0 L1195.8 1257.0 L1194.2 1255.1 L1192.6 1253.2 L1191.0 1251.2 L1189.4 1249.3 L1187.8 1247.4 L1186.2 1245.6 L1184.5 1243.7 L1182.9 1241.8 L1181.2 1240.0 L1179.5 1238.2 L1177.8 1236.3 L1176.1 1234.5 L1174.4 1232.7 L1172.7 1230.9 L1170.9 1229.2 L1169.2 1227.4 L1167.4 1225.7 L1165.6 1223.9 L1163.8 1222.2 L1162.0 1220.5 L1160.2 1218.8 L1158.4 1217.1 L1156.6 1215.4 L1154.7 1213.8 L1152.9 1212.1 L1151.0 1210.5 L1149.1 1208.9 L1147.2 1207.3 L1145.3 1205.6 L1143.4 1204.1 L1141.5 1202.5 L1139.6 1200.9 L1137.6 1199.4 L1135.7 1197.8 L1133.7 1196.3 L1131.8 1194.8 L1129.8 1193.3 L1127.8 1191.8 L1125.8 1190.3 L1123.8 1188.8 L1121.8 1187.3 L1119.8 1185.9 L1117.7 1184.4 L1115.7 1183.0 L1113.6 1181.6 L1111.6 1180.2 L1109.5 1178.8 L1107.4 1177.4 L1105.4 1176.1 L1103.3 1174.7 L1101.2 1173.4 L1099.1 1172.0 L1096.9 1170.7 L1094.8 1169.4 L1092.7 1168.1 L1090.5 1166.8 L1088.4 1165.5 L1086.3 1164.3 L1084.1 1163.0 L1081.9 1161.8 L1079.8 1160.5 L1077.6 1159.3 L1075.4 1158.1 L1073.2 1156.9 L1071.0 1155.7 L1068.8 1154.5 L1066.6 1153.4 L1064.3 1152.2 L1062.1 1151.1 L1059.9 1149.9 L1057.7 1148.8 L1055.4 1147.7 L1053.2 1146.6 L1050.9 1145.5 L1048.6 1144.4 L1046.4 1143.4 L1044.1 1142.3 L1041.8 1141.2 L1039.5 1140.2 L1037.3 1139.2 L1035.0 1138.2 L1032.7 1137.2 L1030.4 1136.2 L1028.1 1135.2 L1025.7 1134.2 L1023.4 1133.3 L1021.1 1132.3 L1018.8 1131.4 L1016.4 1130.4 L1014.1 1129.5 L1011.8 1128.6 L1009.4 1127.7 L1007.1 1126.8 L1004.7 1125.9 L1002.3 1125.1 L1000.0 1124.2 L997.6 1123.4 L995.2 1122.5 L992.9 1121.7 L990.5 1120.9 L988.1 1120.1 L985.7 1119.3 L983.3 1118.5 L980.9 1117.7 L978.5 1116.9 L976.1 1116.2 L973.7 1115.4 L971.3 1114.7 L968.9 1114.0 L966.5 1113.2 L964.1 1112.5 L961.7 1111.8 L959.2 1111.1 L956.8 1110.5 L954.4 1109.8 L952.0 1109.1 L949.5 1108.5 L947.1 1107.8 L944.7 1107.2 L942.2 1106.6 L939.8 1106.0 L937.3 1105.3 L934.9 1104.7 L932.4 1104.2 L930.0 1103.6 L927.5 1103.0 L925.1 1102.5 L922.6 1101.9 L920.1 1101.4 L917.7 1100.8 L915.2 1100.3 L912.8 1099.8 L910.3 1099.3 L907.8 1098.8 L905.4 1098.3 L902.9 1097.8 L900.4 1097.3 L898.0 1096.9 L895.5 1096.4 L893.0 1096.0 L890.5 1095.6 L888.1 1095.1 L885.6 1094.7 L883.1 1094.3 L880.6 1093.9 L878.2 1093.5 L875.7 1093.1 L873.2 1092.7 L870.7 1092.4 L868.2 1092.0 L865.8 1091.7 L863.3 1091.3 L860.8 1091.0 L858.3 1090.7 L855.9 1090.4 L853.4 1090.1 L850.9 1089.8 L848.4 1089.5 L845.9 1089.2 L843.5 1088.9 L841.0 1088.7 L838.5 1088.4 L836.0 1088.2 L833.5 1088.0 L831.1 1087.7 L828.6 1087.5 L826.1 1087.3 L823.6 1087.2 L821.1 1087.0 L818.6 1086.8 L816.2 1086.7 L813.7 1086.5 L811.2 1086.4 L808.7 1086.3 L806.2 1086.2 L803.8 1086.1 L801.3 1086.0 L798.8 1085.9 L796.3 1085.8 L793.8 1085.8 L791.4 1085.7 L788.9 1085.7 L786.4 1085.7 L783.9 1085.7 L781.4 1085.7 L779.0 1085.7 L776.5 1085.7 L774.0 1085.8 L771.5 1085.8 L769.0 1085.9 L766.6 1086.0 L764.1 1086.1 L761.6 1086.2 L759.1 1086.3 L756.6 1086.5 L754.2 1086.6 L751.7 1086.8 L749.2 1086.9 L746.7 1087.1 L744.3 1087.3 L741.8 1087.5 L739.3 1087.8 L736.8 1088.0 L734.4 1088.3 L731.9 1088.5 L729.4 1088.8 L726.9 1089.1 L724.5 1089.4 L722.0 1089.8 L719.5 1090.1 L717.0 1090.5 L714.6 1090.8 L712.1 1091.2 L709.6 1091.6 L707.2 1092.0 L704.7 1092.5 L702.2 1092.9 L699.8 1093.3 L697.3 1093.8 L694.8 1094.2 L692.3 1094.7 L689.9 1095.2 L687.4 1095.7 L684.9 1096.1 L682.5 1096.6 L680.0 1097.1 L677.5 1097.6 L675.1 1098.1 L672.6 1098.6 L670.1 1099.1 L667.7 1099.6 L665.2 1100.1 L662.7 1100.6 L660.2 1101.1 L657.8 1101.6 L655.3 1102.1 L652.8 1102.6 L650.4 1103.1 L647.9 1103.6 L645.4 1104.1 L643.0 1104.5 L640.5 1105.0 L638.0 1105.4 L635.5 1105.9 L633.1 1106.3 L630.6 1106.7 L628.1 1107.2 L625.6 1107.6 L623.2 1108.0 L620.7 1108.3 L618.2 1108.7 L615.7 1109.0 L613.3 1109.4 L610.8 1109.7 L608.3 1110.0 L605.8 1110.3 L603.3 1110.5 L600.9 1110.8 L598.4 1111.0 L595.9 1111.2 L593.4 1111.4 L590.9 1111.6 L588.4 1111.7 L586.0 1111.8 L583.5 1111.9 L581.0 1112.0 L578.5 1112.1 L576.0 1112.1 L573.5 1112.1 L571.0 1112.0 L568.5 1112.0 L566.0 1111.9 L563.5 1111.8 L561.0 1111.6 L558.5 1111.4 L556.0 1111.2 L553.5 1111.0 L551.0 1110.8 L548.5 1110.5 L546.0 1110.3 L543.5 1110.0 L541.0 1109.6 L538.5 1109.3 L536.0 1109.0 L533.5 1108.7 L531.0 1108.3 L528.5 1108.0 L526.0 1107.6 L523.5 1107.2 L521.0 1106.9 L518.5 1106.5 L516.0 1106.1 L513.5 1105.8 L511.0 1105.4 L508.5 1105.1 L505.9 1104.7 L503.4 1104.4 L500.9 1104.1 L498.4 1103.8 L495.9 1103.5 L493.4 1103.3 L490.9 1103.0 L488.4 1102.8 L485.9 1102.6 L483.4 1102.4 L480.9 1102.2 L478.4 1102.1 L475.9 1102.0 L473.4 1101.9 L470.9 1101.8 L468.4 1101.8 L465.9 1101.9 L463.5 1101.9 L461.0 1102.0 L458.5 1102.2 L456.0 1102.3 L453.5 1102.6 L464.5 1084.5" stroke="#000" stroke-width="3.6" stroke-dasharray="22 17"/>
<path d="M456.2 1501.0 L456.2 1498.5 L456.3 1496.0 L456.3 1493.5 L456.3 1491.0 L456.4 1488.5 L456.4 1486.0 L456.5 1483.5 L456.5 1481.0 L456.5 1478.5 L456.6 1476.0 L456.6 1473.5 L456.6 1471.0 L456.7 1468.5 L456.7 1466.0 L456.8 1463.5 L456.8 1461.0 L456.9 1458.5 L456.9 1455.9 L456.9 1453.4 L457.0 1450.9 L457.0 1448.4 L457.1 1445.9 L457.2 1443.4 L457.2 1440.9 L457.3 1438.4 L457.3 1435.9 L457.4 1433.4 L457.5 1430.9 L457.5 1428.4 L457.6 1425.9 L457.7 1423.4 L457.7 1420.9 L457.8 1418.4 L457.9 1415.9 L458.0 1413.4 L458.0 1410.9 L458.1 1408.4 L458.2 1405.9 L458.3 1403.4 L458.4 1400.9 L458.5 1398.4 L458.6 1395.9 L458.7 1393.4 L458.8 1390.9 L458.9 1388.4 L459.1 1385.9 L459.2 1383.4 L459.3 1380.9 L459.4 1378.4 L459.6 1375.9 L459.7 1373.4 L459.8 1370.9 L460.0 1368.4 L460.1 1365.9 L460.3 1363.4 L460.5 1360.9 L460.6 1358.4 L460.8 1355.9 L461.0 1353.4 L461.1 1350.9 L461.3 1348.4 L461.5 1346.0 L461.7 1343.5 L461.9 1341.0 L462.1 1338.5 L462.3 1336.0 L462.5 1333.5 L462.7 1331.0 L463.0 1328.5 L463.2 1326.0 L463.4 1323.5 L463.7 1321.0 L463.9 1318.6 L464.2 1316.1 L464.4 1313.6 L464.7 1311.1 L465.0 1308.6 L465.2 1306.1 L465.5 1303.6 L465.8 1301.2 L466.1 1298.7 L466.4 1296.2 L466.7 1293.7 L467.1 1291.2 L467.4 1288.7 L467.7 1286.3 L468.1 1283.8 L468.4 1281.3 L468.8 1278.8 L469.1 1276.3 L469.5 1273.9 L469.9 1271.4 L470.3 1268.9 L470.6 1266.4 L471.0 1264.0 L471.5 1261.5 L471.9 1259.0 L472.3 1256.6 L472.7 1254.1 L473.2 1251.6 L473.6 1249.2 L474.1 1246.7 L474.6 1244.2 L475.1 1241.8 L475.6 1239.3 L476.1 1236.9 L476.6 1234.4 L477.2 1232.0 L477.7 1229.5 L478.3 1227.1 L478.9 1224.7 L479.4 1222.2 L480.1 1219.8 L480.7 1217.4 L481.3 1215.0 L482.0 1212.5 L482.6 1210.1 L483.3 1207.7 L484.0 1205.3 L484.7 1202.9 L485.5 1200.6 L486.2 1198.2 L487.0 1195.8 L487.8 1193.4 L488.6 1191.1 L489.4 1188.7 L490.3 1186.3 L491.1 1184.0 L492.0 1181.7 L492.9 1179.3 L493.9 1177.0 L494.8 1174.7 L495.8 1172.4 L496.8 1170.1 L497.8 1167.8 L498.8 1165.5 L499.9 1163.2 L501.0 1161.0 L502.1 1158.7 L503.2 1156.5 L504.3 1154.2 L505.5 1152.0 L506.7 1149.8 L508.0 1147.6 L509.2 1145.4 L510.5 1143.2 L511.8 1141.1 L513.1 1138.9 L514.5 1136.8 L515.9 1134.7 L517.3 1132.6 L518.7 1130.6 L520.2 1128.5 L521.7 1126.5 L523.2 1124.5 L524.8 1122.6 L526.3 1120.7 L528.0 1118.8 L529.6 1116.9 L531.3 1115.0 L533.0 1113.2 L534.7 1111.5 L536.4 1109.7 L538.2 1108.0 L540.1 1106.3 L541.9 1104.7 L543.8 1103.1 L545.7 1101.5 L547.6 1100.0 L549.6 1098.5 L551.5 1097.0 L553.5 1095.5 L555.6 1094.1 L557.6 1092.7 L559.7 1091.3 L561.7 1089.9 L563.8 1088.5 L565.9 1087.2 L568.1 1085.9 L570.2 1084.6 L572.4 1083.4 L574.5 1082.1 L576.7 1080.9 L578.9 1079.6 L581.1 1078.4 L583.3 1077.2 L585.5 1076.1 L587.8 1074.9 L590.0 1073.7 L592.2 1072.6 L594.5 1071.4 L596.7 1070.3 L599.0 1069.2 L601.2 1068.0 L603.5 1066.9 L605.7 1065.8 L608.0 1064.7 L610.3 1063.6 L612.5 1062.6 L614.8 1061.5 L617.1 1060.4 L619.4 1059.4 L621.7 1058.3 L624.0 1057.3 L626.2 1056.2 L628.5 1055.2 L630.8 1054.2 L633.2 1053.2 L635.5 1052.2 L637.8 1051.2 L640.1 1050.2 L642.4 1049.2 L644.7 1048.3 L647.0 1047.3 L649.4 1046.4 L651.7 1045.4 L654.0 1044.5 L656.4 1043.6 L658.7 1042.6 L661.1 1041.7 L663.4 1040.8 L665.8 1039.9 L668.1 1039.1 L670.5 1038.2 L672.8 1037.3 L675.2 1036.5 L677.5 1035.6 L679.9 1034.8 L682.3 1033.9 L684.6 1033.1 L687.0 1032.3 L689.4 1031.5 L691.8 1030.7 L694.1 1029.9 L696.5 1029.1 L698.9 1028.3 L701.3 1027.5 L703.7 1026.8 L706.1 1026.0 L708.5 1025.3 L710.9 1024.5 L713.2 1023.8 L715.6 1023.1 L718.0 1022.4 L720.5 1021.7 L722.9 1021.0 L725.3 1020.3 L727.7 1019.6 L730.1 1018.9 L732.5 1018.3 L734.9 1017.6 L737.3 1016.9 L739.7 1016.3 L742.1 1015.7 L744.6 1015.1 L747.0 1014.4 L749.4 1013.8 L751.8 1013.2 L754.3 1012.6 L756.7 1012.1 L759.1 1011.5 L761.5 1010.9 L764.0 1010.4 L766.4 1009.8 L768.8 1009.3 L771.3 1008.7 L773.7 1008.2 L776.1 1007.7 L778.6 1007.2 L781.0 1006.7 L783.4 1006.2 L785.9 1005.7 L788.3 1005.2 L790.8 1004.7 L793.2 1004.2 L795.7 1003.8 L798.1 1003.3 L800.6 1002.9 L803.0 1002.4 L805.5 1002.0 L807.9 1001.5 L810.4 1001.1 L812.8 1000.7 L815.3 1000.3 L817.7 999.9 L820.2 999.5 L822.6 999.1 L825.1 998.7 L827.6 998.3 L830.0 997.9 L832.5 997.5 L834.9 997.2 L837.4 996.8 L839.9 996.4 L842.3 996.1 L844.8 995.7 L847.3 995.4 L849.7 995.0 L852.2 994.7 L854.7 994.4 L857.1 994.1 L859.6 993.7 L862.1 993.4 L864.6 993.1 L867.0 992.8 L869.5 992.5 L872.0 992.2 L874.5 991.9 L877.0 991.6 L879.4 991.3 L881.9 991.0 L884.4 990.8 L886.9 990.5 L889.4 990.2 L891.8 989.9 L894.3 989.7 L896.8 989.4 L899.3 989.1 L901.8 988.9 L904.3 988.6 L906.8 988.4 L909.2 988.1 L911.7 987.9 L914.2 987.6 L916.7 987.4 L919.2 987.2 L921.7 986.9 L924.2 986.7 L926.7 986.5 L929.2 986.2 L931.7 986.0 L934.2 985.8 L936.7 985.6 L939.1 985.3 L941.6 985.1 L944.1 984.9 L946.6 984.7 L949.1 984.5 L951.6 984.3 L954.1 984.1 L956.6 983.9 L959.1 983.6 L961.6 983.4 L964.1 983.2 L966.6 983.0 L969.1 982.8 L971.6 982.6 L974.1 982.4 L976.6 982.2 L979.1 982.0 L981.6 981.8 L984.1 981.6 L986.7 981.4 L989.2 981.2 L991.7 981.0 L994.2 980.8 L996.7 980.6 L999.2 980.4 L1001.7 980.2 L1004.2 980.0 L1006.7 979.8 L1009.2 979.6 L1011.7 979.4 L1014.2 979.2 L1016.7 979.0 L1019.2 978.8 L1021.7 978.6 L1024.2 978.4 L1026.8 978.2 L1029.3 978.0 L1031.8 977.8 L1034.3 977.5 L1036.8 977.3 L1039.3 977.1 L1041.8 976.9 L1044.3 976.7 L1046.8 976.5 L1049.3 976.2 L1051.8 976.0 L1054.4 975.8 L1056.9 975.6 L1059.4 975.3 L1061.9 975.1 L1064.4 974.9 L1066.9 974.6 L1069.4 974.4 L1071.9 974.2 L1074.4 973.9 L1076.9 973.7 L1079.5 973.4 L1082.0 973.2 L1084.5 972.9 L1087.0 972.7 L1089.5 972.4 L1092.0 972.1 L1094.5 971.9 L1097.0 971.6 L1099.5 971.3 L1102.0 971.1 L1104.5 970.8 L1107.1 970.5 L1109.6 970.2 L1112.1 969.9 L1114.6 969.6 L1117.1 969.3 L1119.6 969.0 L1122.1 968.7 L1124.6 968.4 L1127.1 968.0 L1129.6 967.7 L1132.1 967.3 L1134.6 967.0 L1137.1 966.6 L1139.5 966.2 L1142.0 965.8 L1144.5 965.4 L1147.0 965.0 L1149.4 964.6 L1151.9 964.2 L1154.4 963.7 L1156.8 963.3 L1159.3 962.8 L1161.7 962.3 L1164.2 961.8 L1166.6 961.3 L1169.0 960.7 L1171.4 960.2 L1173.8 959.6 L1176.3 959.0 L1178.7 958.4 L1181.0 957.8 L1183.4 957.1 L1185.8 956.4 L1188.2 955.7 L1190.5 955.0 L1192.9 954.3 L1195.2 953.6 L1197.6 952.8 L1199.9 952.0 L1202.2 951.2 L1204.5 950.3 L1206.8 949.4 L1209.1 948.5 L1211.4 947.6 L1213.6 946.7 L1215.9 945.7 L1218.1 944.7 L1220.3 943.7 L1222.6 942.6 L1224.8 941.6 L1227.0 940.4 L1229.1 939.3 L1231.3 938.1 L1233.5 936.9 L1235.6 935.7 L1237.7 934.4 L1239.8 933.1 L1241.9 931.8 L1244.0 930.5 L1246.1 929.1 L1248.2 927.6 L1250.2 926.2 L1252.2 924.7 L1254.2 923.1 L1256.2 921.5 L1258.0 919.9 L1259.9 918.2 L1261.6 916.4 L1263.3 914.6 L1264.8 912.7 L1266.3 910.7 L1267.6 908.7 L1268.9 906.5 L1270.0 904.3 L1271.0 902.0 L1272.0 899.7 L1272.9 897.4 L1273.8 895.0 L1274.7 892.6 L1275.6 890.3 L1276.5 887.9 L1277.4 885.5 L1278.3 883.2 L1279.2 880.8 L1280.1 878.5 L1281.0 876.1 L1281.9 873.8 L1282.9 871.4 L1283.8 869.1 L1284.7 866.8 L1285.6 864.4 L1286.5 862.1 L1287.4 859.7 L1288.4 857.4 L1289.3 855.1 L1290.2 852.7 L1291.1 850.4 L1292.0 848.0 L1292.9 845.7 L1293.8 843.4 L1294.6 841.0 L1295.5 838.7 L1296.4 836.3 L1297.2 834.0 L1298.1 831.6 L1298.9 829.3 L1299.8 826.9 L1300.6 824.6 L1301.4 822.2 L1302.2 819.8 L1303.0 817.5 L1303.8 815.1 L1304.6 812.7 L1305.3 810.3 L1306.1 808.0 L1306.8 805.6 L1307.6 803.2 L1308.3 800.8 L1309.0 798.4 L1309.8 796.0 L1310.5 793.6 L1311.2 791.2 L1311.9 788.8 L1312.6 786.4 L1313.2 784.0 L1313.9 781.6 L1314.6 779.2 L1315.2 776.8 L1315.9 774.4 L1316.5 772.0 L1317.1 769.5 L1317.8 767.1 L1318.4 764.7 L1319.0 762.3 L1319.6 759.9 L1320.2 757.4 L1320.8 755.0 L1321.4 752.6 L1322.0 750.1 L1322.5 747.7 L1323.1 745.3 L1323.6 742.8 L1324.2 740.4 L1324.8 737.9 L1325.3 735.5 L1325.8 733.1 L1326.4 730.6 L1326.9 728.2 L1327.4 725.7 L1327.9 723.3 L1328.4 720.8 L1328.9 718.4 L1329.4 715.9 L1329.9 713.5 L1330.4 711.0 L1330.9 708.5 L1331.4 706.1 L1331.8 703.6 L1332.3 701.2 L1332.8 698.7 L1333.2 696.2 L1333.7 693.8 L1334.1 691.3 L1334.6 688.8 L1335.0 686.4 L1335.5 683.9 L1335.9 681.4 L1336.3 679.0 L1336.8 676.5 L1337.2 674.0 L1337.6 671.6 L1338.0 669.1 L1338.4 666.6 L1338.9 664.1 L1339.3 661.7 L1339.7 659.2 L1340.1 656.7 L1340.5 654.2 L1340.9 651.8 L1341.3 649.3 L1341.7 646.8 L1342.1 644.3 L1342.4 641.9 L1342.8 639.4 L1343.2 636.9 L1343.6 634.4 L1344.0 632.0 L1344.4 629.5 L1344.7 627.0 L1345.1 624.5 L1345.5 622.1 L1345.9 619.6 L1346.2 617.1 L1346.6 614.6 L1347.0 612.2 L1347.3 609.7 L1347.7 607.2 L1348.1 604.8 L1348.4 602.3 L1348.8 599.8 L1349.1 597.3 L1349.5 594.9 L1349.9 592.4 L1350.2 589.9 L1350.6 587.4 L1350.9 585.0 L1351.3 582.5 L1351.6 580.0 L1352.0 577.5 L1352.4 575.1 L1352.7 572.6 L1353.1 570.1 L1353.4 567.6 L1353.8 565.2 L1354.1 562.7 L1354.5 560.2 L1354.8 557.7 L1355.2 555.3 L1355.6 552.8 L1355.9 550.3 L1356.3 547.9 L1356.6 545.4 L1357.0 542.9 L1357.3 540.4 L1357.7 538.0 L1358.1 535.5 L1358.4 533.0 L1358.8 530.5 L1359.1 528.1 L1359.5 525.6 L1359.9 523.1 L1360.2 520.7 L1360.6 518.2 L1361.0 515.7 L1361.3 513.2 L1361.7 510.8 L1362.1 508.3 L1362.4 505.8 L1362.8 503.4 L1363.2 500.9 L1363.6 498.4 L1364.0 495.9 L1364.3 493.5 L1364.7 491.0 L1365.1 488.5 L1365.5 486.1 L1365.9 483.6 L1366.3 481.1 L1366.7 478.6 L1367.1 476.2 L1367.5 473.7 L1367.9 471.2 L1368.3 468.8 L1368.7 466.3 L1369.1 463.8 L1369.5 461.3 L1369.9 458.9 L1370.3 456.4 L1370.7 453.9 L1371.2 451.5 L1371.6 449.0 L1372.0 446.5 L1372.4 444.1 L1372.9 441.6 L1373.3 439.1 L1373.7 436.7 L1374.2 434.2 L1374.6 431.7 L1375.1 429.2 L1375.5 426.8 L1376.0 424.3 L1376.5 421.8 L1376.9 419.4 L1377.4 416.9 L1377.9 414.4 L1378.4 412.0 L1378.8 409.5 L1379.3 407.0 L1379.8 404.6 L1380.3 402.1 L1380.8 399.6 L1381.3 397.2 L1381.8 394.7 L1382.3 392.2 L1382.8 389.8 L1383.3 387.3 L1383.9 384.8 L1384.4 382.4 L1384.9 379.9 L1385.4 377.5 L1385.9 375.0 L1386.5 372.6 L1387.0 370.1 L1387.5 367.7 L1388.0 365.2 L1388.6 362.8 L1389.1 360.3 L1389.6 357.9 L1390.1 355.5 L1390.7 353.0 L1391.2 350.6 L1391.7 348.2 L1392.2 345.7 L1392.8 343.3 L1393.3 340.9 L1393.8 338.5 L1394.3 336.1 L1394.8 333.7 L1395.3 331.3 L1395.9 328.9 L1396.4 326.5 L1396.9 324.1 L1397.4 321.7 L1397.9 319.3 L1398.4 316.9 L1398.9 314.6 L1399.5 312.2 L1400.1 309.8 L1400.6 307.4 L1401.2 305.0 L1401.9 302.6 L1402.5 300.2 L1403.2 297.8 L1404.0 295.3 L1404.7 292.9 L1405.5 290.5 L1406.4 288.0 L1407.3 285.5 L1408.2 283.0 L1409.2 280.5 L1410.3 278.0 L1411.4 275.5 L1412.6 273.0 L1413.9 270.6 L1415.2 268.3 L1416.6 266.1 L1418.2 264.0 L1419.8 262.0 L1421.5 260.2 L1423.4 258.6 L1425.3 257.2 L1427.4 256.0 L1429.6 255.1 L1431.9 254.4 L1434.3 254.0 L1436.6 253.9 L1438.9 254.1 L1441.1 254.5 L1443.3 255.1 L1445.5 256.0 L1447.6 257.0 L1449.7 258.3 L1451.7 259.7 L1453.7 261.2 L1455.7 262.9 L1457.6 264.7 L1459.5 266.6 L1461.3 268.5 L1463.1 270.6 L1464.8 272.6 L1466.5 274.7 L1468.2 276.8 L1469.8 278.9 L1471.4 281.0 L1473.0 283.2 L1474.5 285.3 L1475.9 287.4 L1477.4 289.5 L1478.8 291.7 L1480.2 293.8 L1481.5 295.9 L1482.9 298.1 L1484.2 300.2 L1485.5 302.4 L1486.7 304.5 L1488.0 306.7 L1489.2 308.8 L1490.4 311.0 L1491.6 313.1 L1492.8 315.3 L1494.0 317.4 L1495.2 319.6 L1496.3 321.7 L1497.5 323.9 L1498.6 326.0 L1499.8 328.2 L1500.9 330.3 L1502.1 332.4 L1503.2 334.6 L1504.4 336.7 L1505.6 338.8 L1506.7 341.0 L1507.9 343.1 L1509.1 345.2 L1510.3 347.3 L1511.5 349.4 L1512.8 351.5 L1514.0 353.6 L1515.3 355.7 L1516.6 357.8 L1517.9 359.8 L1519.3 361.9 L1520.6 363.9 L1522.0 366.0 L1523.4 368.0 L1524.9 370.1 L1526.4 372.1 L1527.8 374.1 L1529.3 376.1 L1530.9 378.1 L1532.4 380.1 L1534.0 382.1 L1535.6 384.0 L1537.2 386.0 L1538.8 388.0 L1540.4 389.9 L1542.0 391.9 L1543.7 393.8 L1545.4 395.7 L1547.0 397.7 L1548.7 399.6 L1550.4 401.5 L1552.1 403.4 L1553.8 405.3 L1555.6 407.2 L1557.3 409.0 L1559.0 410.9 L1560.7 412.8 L1562.5 414.6 L1564.2 416.5 L1566.0 418.4 L1567.7 420.2 L1569.4 422.0 L1571.2 423.9 L1572.9 425.7 L1574.6 427.5 L1576.4 429.3 L1578.1 431.1 L1579.8 432.9 L1581.5 434.7 L1583.2 436.5 L1584.9 438.3 L1586.7 440.0 L1588.4 441.8 L1590.1 443.6 L1591.8 445.3 L1593.5 447.1 L1595.2 448.8 L1596.9 450.5 L1598.6 452.2 L1600.4 453.9 L1602.1 455.6 L1603.9 457.3 L1605.6 459.0 L1607.4 460.7 L1609.2 462.3 L1611.0 464.0 L1612.8 465.6 L1614.6 467.2 L1616.4 468.8 L1618.3 470.5 L1620.2 472.0 L1622.1 473.6 L1624.0 475.2 L1625.9 476.7 L1627.9 478.3 L1629.9 479.8 L1631.9 481.3 L1633.9 482.8 L1635.9 484.3 L1637.9 485.8 L1640.0 487.3 L1642.1 488.7 L1644.1 490.1 L1646.2 491.6 L1648.3 493.0 L1650.5 494.4 L1652.6 495.8 L1654.7 497.1 L1656.9 498.5 L1659.0 499.8 L1661.2 501.1 L1663.3 502.5 L1665.5 503.8 L1667.7 505.0 L1669.8 506.3 L1672.0 507.6 L1674.2 508.8 L1676.4 510.0 L1678.6 511.3 L1680.8 512.5 L1683.0 513.6 L1685.2 514.8 L1687.5 516.0 L1689.7 517.1 L1691.9 518.3 L1694.1 519.4 L1696.4 520.5 L1698.6 521.6 L1700.9 522.7 L1703.1 523.8 L1705.4 524.9 L1707.7 525.9 L1709.9 527.0 L1712.2 528.0 L1714.5 529.0 L1716.8 530.0 L1719.1 531.0 L1721.4 532.0 L1723.7 533.0 L1726.0 534.0 L1728.3 534.9 L1730.6 535.9 L1732.9 536.8 L1735.2 537.8 L1737.5 538.7 L1739.8 539.6 L1742.2 540.5 L1744.5 541.4 L1746.8 542.3 L1749.2 543.1 L1751.5 544.0 L1753.9 544.8 L1756.2 545.7 L1758.6 546.5 L1760.9 547.3 L1763.3 548.2 L1765.7 549.0 L1768.0 549.8 L1770.4 550.6 L1772.8 551.3 L1775.1 552.1 L1777.5 552.9 L1779.9 553.7 L1782.3 554.4 L1784.7 555.2 L1787.1 555.9 L1789.4 556.6 L1791.8 557.4 L1794.2 558.1 L1796.6 558.8 L1799.0 559.5 L1801.4 560.2 L1803.8 560.9 L1806.2 561.6 L1808.7 562.2 L1811.1 562.9 L1813.5 563.6 L1815.9 564.3 L1818.3 564.9 L1820.7 565.6 L1823.2 566.2 L1825.6 566.8 L1828.0 567.5 L1830.4 568.1 L1832.8 568.7 L1835.3 569.4 L1837.7 570.0 L1840.1 570.6 L1842.6 571.2 L1845.0 571.8 L1847.4 572.4 L1849.9 573.0 L1852.3 573.6 L1854.7 574.2 L1857.2 574.8 L1859.6 575.3 L1862.1 575.9 L1864.5 576.5 L1866.9 577.0 L1869.4 577.6 L1871.8 578.1 L1874.3 578.7 L1876.7 579.2 L1879.2 579.8 L1881.6 580.3 L1884.1 580.8 L1886.5 581.4 L1889.0 581.9 L1891.4 582.4 L1893.9 582.9 L1896.3 583.4 L1898.8 583.9 L1901.2 584.4 L1903.7 584.9 L1906.2 585.4 L1908.6 585.9 L1911.1 586.4 L1913.5 586.8 L1916.0 587.3 L1918.5 587.7 L1920.9 588.2 L1923.4 588.7 L1925.9 589.1 L1928.3 589.5 L1930.8 590.0 L1933.3 590.4 L1935.7 590.8 L1938.2 591.2 L1940.7 591.7 L1943.1 592.1 L1945.6 592.5 L1948.1 592.9 L1950.6 593.2 L1953.0 593.6 L1955.5 594.0 L1958.0 594.4 L1960.5 594.8 L1962.9 595.1 L1965.4 595.5 L1967.9 595.8 L1970.4 596.2 L1972.8 596.5 L1975.3 596.8 L1977.8 597.2 L1980.3 597.5 L1982.8 597.8 L1985.2 598.1 L1987.7 598.4 L1990.2 598.7 L1992.7 599.0 L1995.2 599.3 L1997.7 599.6 L2000.1 599.8 L2002.6 600.1 L2005.1 600.4 L2007.6 600.6 L2010.1 600.9 L2012.6 601.1 L2015.1 601.3 L2017.5 601.6 L2020.0 601.8 L2022.5 602.0 L2025.0 602.2 L2027.5 602.4 L2030.0 602.6 L2032.5 602.8 L2035.0 603.0 L2037.5 603.2 L2039.9 603.4 L2042.4 603.5 L2044.9 603.7 L2047.4 603.8 L2049.9 604.0 L2052.4 604.1 L2054.9 604.2 L2057.4 604.4 L2059.9 604.5 L2062.4 604.6 L2064.9 604.7 L2067.4 604.8 L2069.8 604.9 L2072.3 605.0 L2074.8 605.0 L2077.3 605.1 L2079.8 605.2 L2082.3 605.2 L2084.8 605.3 L2087.3 605.3 L2089.8 605.4 L2092.3 605.4 L2094.8 605.4 L2097.3 605.4 L2099.8 605.4 L2102.3 605.4 L2104.8 605.4 L2107.3 605.4 L2109.8 605.4 L2112.3 605.3 L2114.7 605.3 L2117.2 605.3 L2119.7 605.2 L2122.2 605.1 L2124.7 605.1 L2127.2 605.0 L2129.7 604.9 L2132.2 604.8 L2134.7 604.7 L2137.2 604.6 L2139.7 604.5 L2142.2 604.4 L2144.7 604.3 L2147.2 604.1 L2149.7 604.0 L2152.2 603.8 L2154.7 603.7 L2157.1 603.5 L2159.6 603.3 L2162.1 603.1 L2164.6 602.9 L2167.1 602.7 L2169.6 602.5 L2172.1 602.3 L2174.6 602.1 L2177.1 601.9 L2179.6 601.6 L2182.1 601.4 L2184.5 601.1 L2187.0 600.8 L2189.5 600.6 L2192.0 600.3 L2194.5 600.0 L2197.0 599.7 L2199.5 599.4 L2202.0 599.1 L2204.5 598.7 L2206.9 598.4 L2209.4 598.1 L2211.9 597.7 L2214.4 597.4 L2216.9 597.0 L2219.4 596.6 L2221.8 596.2 L2224.3 595.9 L2226.8 595.5 L2229.3 595.0 L2231.8 594.6 L2234.3 594.2 L2236.7 593.8 L2239.2 593.3 L2241.7 592.9 L2244.2 592.4 L2246.7 591.9 L2249.1 591.4 L2251.6 591.0 L2254.1 590.5 L2256.6 590.0 L2259.0 589.4 L2261.5 588.9 L2260.8 591.3 L2260.1 593.7 L2259.3 596.0 L2258.5 598.4 L2257.7 600.7 L2256.9 603.1 L2256.0 605.4 L2255.1 607.7 L2254.1 610.1 L2253.2 612.4 L2252.2 614.7 L2251.1 617.1 L2250.0 619.4 L2248.9 621.6 L2247.8 623.9 L2246.6 626.2 L2245.4 628.4 L2244.2 630.6 L2242.9 632.8 L2241.6 635.0 L2240.3 637.2 L2238.9 639.3 L2237.5 641.4 L2236.1 643.5 L2234.6 645.5 L2233.1 647.5 L2231.6 649.5 L2230.0 651.5 L2228.4 653.4 L2226.8 655.2 L2225.1 657.1 L2223.4 658.8 L2221.6 660.6 L2219.8 662.3 L2218.0 664.0 L2216.2 665.6 L2214.3 667.2 L2212.4 668.7 L2210.4 670.2 L2208.5 671.7 L2206.5 673.1 L2204.5 674.5 L2202.4 675.9 L2200.3 677.2 L2198.2 678.5 L2196.1 679.7 L2194.0 681.0 L2191.8 682.2 L2189.6 683.3 L2187.4 684.5 L2185.2 685.6 L2183.0 686.7 L2180.7 687.7 L2178.4 688.8 L2176.1 689.8 L2173.8 690.8 L2171.5 691.7 L2169.2 692.7 L2166.8 693.6 L2164.5 694.5 L2162.1 695.4 L2159.7 696.3 L2157.4 697.1 L2155.0 697.9 L2152.6 698.7 L2150.2 699.5 L2147.8 700.3 L2145.4 701.1 L2143.0 701.8 L2140.6 702.6 L2138.1 703.3 L2135.7 704.0 L2133.3 704.7 L2130.9 705.4 L2128.5 706.1 L2126.1 706.8 L2123.6 707.4 L2121.2 708.1 L2118.8 708.7 L2116.3 709.3 L2113.9 710.0 L2111.5 710.6 L2109.0 711.2 L2106.6 711.8 L2104.2 712.3 L2101.7 712.9 L2099.3 713.5 L2096.9 714.0 L2094.4 714.5 L2092.0 715.1 L2089.5 715.6 L2087.1 716.1 L2084.6 716.6 L2082.2 717.1 L2079.7 717.6 L2077.3 718.1 L2074.8 718.6 L2072.4 719.0 L2069.9 719.5 L2067.4 720.0 L2065.0 720.4 L2062.5 720.9 L2060.1 721.3 L2057.6 721.7 L2055.1 722.2 L2052.7 722.6 L2050.2 723.0 L2047.8 723.4 L2045.3 723.8 L2042.8 724.2 L2040.4 724.6 L2037.9 725.0 L2035.4 725.4 L2033.0 725.7 L2030.5 726.1 L2028.0 726.5 L2025.5 726.9 L2023.1 727.2 L2020.6 727.6 L2018.1 728.0 L2015.7 728.3 L2013.2 728.7 L2010.7 729.0 L2008.2 729.4 L2005.8 729.7 L2003.3 730.1 L2000.8 730.4 L1998.3 730.8 L1995.9 731.1 L1993.4 731.4 L1990.9 731.8 L1988.4 732.1 L1985.9 732.5 L1983.5 732.8 L1981.0 733.1 L1978.5 733.5 L1976.0 733.8 L1973.6 734.1 L1971.1 734.5 L1968.6 734.8 L1966.1 735.1 L1963.7 735.5 L1961.2 735.8 L1958.7 736.1 L1956.2 736.5 L1953.7 736.8 L1951.3 737.1 L1948.8 737.4 L1946.3 737.8 L1943.8 738.1 L1941.3 738.4 L1938.9 738.7 L1936.4 739.1 L1933.9 739.4 L1931.4 739.7 L1928.9 740.0 L1926.5 740.3 L1924.0 740.6 L1921.5 741.0 L1919.0 741.3 L1916.5 741.6 L1914.1 741.9 L1911.6 742.2 L1909.1 742.5 L1906.6 742.8 L1904.1 743.1 L1901.7 743.4 L1899.2 743.7 L1896.7 744.0 L1894.2 744.3 L1891.7 744.6 L1889.2 744.9 L1886.8 745.2 L1884.3 745.5 L1881.8 745.8 L1879.3 746.1 L1876.8 746.4 L1874.3 746.7 L1871.8 747.0 L1869.4 747.2 L1866.9 747.5 L1864.4 747.8 L1861.9 748.1 L1859.4 748.4 L1856.9 748.6 L1854.4 748.9 L1852.0 749.2 L1849.5 749.5 L1847.0 749.7 L1844.5 750.0 L1842.0 750.3 L1839.5 750.5 L1837.0 750.8 L1834.5 751.1 L1832.1 751.3 L1829.6 751.6 L1827.1 751.8 L1824.6 752.1 L1822.1 752.3 L1819.6 752.6 L1817.1 752.8 L1814.6 753.1 L1812.1 753.3 L1809.6 753.5 L1807.1 753.8 L1804.7 754.0 L1802.2 754.2 L1799.7 754.5 L1797.2 754.7 L1794.7 754.9 L1792.2 755.2 L1789.7 755.4 L1787.2 755.6 L1784.7 755.8 L1782.2 756.0 L1779.7 756.3 L1777.2 756.5 L1774.7 756.7 L1772.2 756.9 L1769.7 757.1 L1767.2 757.3 L1764.7 757.5 L1762.2 757.7 L1759.7 757.9 L1757.2 758.1 L1754.7 758.2 L1752.2 758.4 L1749.7 758.6 L1747.2 758.8 L1744.7 759.0 L1742.2 759.2 L1739.7 759.3 L1737.2 759.5 L1734.7 759.7 L1732.2 759.8 L1729.7 760.0 L1727.2 760.2 L1724.7 760.3 L1722.2 760.5 L1719.7 760.6 L1717.2 760.8 L1714.7 760.9 L1712.2 761.1 L1709.7 761.2 L1707.2 761.3 L1704.7 761.5 L1702.2 761.6 L1699.7 761.7 L1697.2 761.8 L1694.7 762.0 L1692.2 762.1 L1689.6 762.2 L1687.1 762.3 L1684.6 762.4 L1682.1 762.5 L1679.6 762.6 L1677.1 762.7 L1674.6 762.8 L1672.1 762.9 L1669.6 763.0 L1667.0 763.1 L1664.5 763.2 L1662.0 763.3 L1659.5 763.4 L1657.0 763.4 L1654.5 763.5 L1652.0 763.6 L1649.5 763.7 L1647.0 763.8 L1644.5 764.0 L1642.0 764.1 L1639.5 764.2 L1637.0 764.4 L1634.5 764.5 L1632.0 764.7 L1629.5 764.9 L1627.0 765.1 L1624.6 765.4 L1622.1 765.6 L1619.6 765.9 L1617.2 766.2 L1614.7 766.5 L1612.3 766.9 L1609.8 767.3 L1607.4 767.7 L1604.9 768.1 L1602.5 768.6 L1600.1 769.0 L1597.7 769.6 L1595.3 770.1 L1592.9 770.7 L1590.5 771.4 L1588.1 772.0 L1585.8 772.7 L1583.4 773.4 L1581.0 774.1 L1578.6 774.8 L1576.3 775.5 L1573.9 776.2 L1571.5 776.9 L1569.1 777.5 L1566.7 778.1 L1564.3 778.7 L1561.9 779.3 L1559.4 779.9 L1557.0 780.4 L1554.6 781.0 L1552.1 781.5 L1549.7 782.1 L1547.2 782.6 L1544.8 783.2 L1542.4 783.8 L1539.9 784.4 L1537.5 785.0 L1535.1 785.7 L1532.7 786.4 L1530.3 787.2 L1527.9 787.9 L1525.5 788.7 L1523.2 789.6 L1520.8 790.5 L1518.5 791.4 L1516.2 792.3 L1513.9 793.3 L1511.7 794.4 L1509.4 795.5 L1507.2 796.6 L1505.1 797.8 L1502.9 799.0 L1500.8 800.3 L1498.8 801.7 L1496.7 803.1 L1494.7 804.5 L1492.8 806.0 L1490.8 807.5 L1488.9 809.0 L1487.1 810.7 L1485.2 812.3 L1483.4 814.0 L1481.6 815.7 L1479.9 817.5 L1478.2 819.3 L1476.5 821.1 L1474.8 823.0 L1473.2 824.9 L1471.6 826.8 L1470.0 828.7 L1468.5 830.7 L1467.0 832.7 L1465.5 834.8 L1464.0 836.8 L1462.6 838.9 L1461.1 841.0 L1459.7 843.1 L1458.4 845.2 L1457.0 847.4 L1455.7 849.5 L1454.4 851.7 L1453.1 853.9 L1451.8 856.1 L1450.6 858.3 L1449.4 860.5 L1448.2 862.8 L1447.0 865.0 L1445.8 867.2 L1444.7 869.5 L1443.5 871.7 L1442.4 874.0 L1441.3 876.3 L1440.3 878.5 L1439.2 880.8 L1438.2 883.1 L1437.2 885.4 L1436.2 887.7 L1435.2 889.9 L1434.2 892.2 L1433.2 894.6 L1432.3 896.9 L1431.4 899.2 L1430.4 901.5 L1429.6 903.8 L1428.7 906.2 L1427.8 908.5 L1426.9 910.8 L1426.1 913.2 L1425.3 915.5 L1424.5 917.9 L1423.7 920.2 L1422.9 922.6 L1422.1 924.9 L1421.3 927.3 L1420.6 929.7 L1419.8 932.0 L1419.1 934.4 L1418.4 936.8 L1417.7 939.2 L1417.0 941.6 L1416.3 944.0 L1415.6 946.4 L1415.0 948.8 L1414.3 951.2 L1413.7 953.6 L1413.0 956.0 L1412.4 958.4 L1411.8 960.8 L1411.1 963.2 L1410.5 965.6 L1409.9 968.0 L1409.3 970.4 L1408.8 972.9 L1408.2 975.3 L1407.6 977.7 L1407.0 980.1 L1406.5 982.6 L1405.9 985.0 L1405.4 987.4 L1404.8 989.9 L1404.3 992.3 L1403.8 994.7 L1403.2 997.2 L1402.7 999.6 L1402.2 1002.1 L1401.7 1004.5 L1401.2 1006.9 L1400.7 1009.4 L1400.1 1011.8 L1399.6 1014.3 L1399.1 1016.7 L1398.7 1019.2 L1398.2 1021.6 L1397.7 1024.1 L1397.2 1026.5 L1396.7 1029.0 L1396.2 1031.4 L1395.8 1033.9 L1395.3 1036.3 L1394.8 1038.8 L1394.3 1041.2 L1393.9 1043.7 L1393.4 1046.1 L1393.0 1048.6 L1392.5 1051.1 L1392.1 1053.5 L1391.6 1056.0 L1391.2 1058.4 L1390.7 1060.9 L1390.3 1063.4 L1389.9 1065.8 L1389.4 1068.3 L1389.0 1070.8 L1388.6 1073.2 L1388.1 1075.7 L1387.7 1078.2 L1387.3 1080.6 L1386.9 1083.1 L1386.4 1085.6 L1386.0 1088.0 L1385.6 1090.5 L1385.2 1093.0 L1384.8 1095.4 L1384.4 1097.9 L1383.9 1100.4 L1383.5 1102.8 L1383.1 1105.3 L1382.7 1107.8 L1382.3 1110.3 L1381.9 1112.7 L1381.5 1115.2 L1381.1 1117.7 L1380.7 1120.2 L1380.3 1122.6 L1379.9 1125.1 L1379.5 1127.6 L1379.1 1130.1 L1378.8 1132.5 L1378.4 1135.0 L1378.0 1137.5 L1377.6 1140.0 L1377.2 1142.4 L1376.8 1144.9 L1376.4 1147.4 L1376.0 1149.9 L1375.6 1152.4 L1375.2 1154.8 L1374.9 1157.3 L1374.5 1159.8 L1374.1 1162.3 L1373.7 1164.7 L1373.3 1167.2 L1372.9 1169.7 L1372.5 1172.2 L1372.2 1174.7 L1371.8 1177.1 L1371.4 1179.6 L1371.0 1182.1 L1370.6 1184.6 L1370.2 1187.1 L1369.8 1189.5 L1369.4 1192.0 L1369.1 1194.5 L1368.7 1197.0 L1368.3 1199.4 L1367.9 1201.9 L1367.5 1204.4 L1367.1 1206.9 L1366.7 1209.4 L1366.3 1211.8 L1365.9 1214.3 L1365.5 1216.8 L1365.1 1219.3 L1364.8 1221.7 L1364.4 1224.2 L1364.0 1226.7 L1363.6 1229.2 L1363.2 1231.7 L1362.8 1234.1 L1362.4 1236.6 L1362.0 1239.1 L1361.6 1241.6 L1361.2 1244.0 L1360.8 1246.5 L1360.4 1249.0 L1360.0 1251.4 L1359.6 1253.9 L1359.2 1256.4 L1358.8 1258.9 L1358.4 1261.3 L1358.0 1263.8 L1357.6 1266.3 L1357.2 1268.7 L1356.8 1271.2 L1356.4 1273.7 L1356.0 1276.2 L1355.6 1278.6 L1355.2 1281.1 L1354.8 1283.6 L1354.3 1286.0 L1353.9 1288.5 L1353.5 1291.0 L1353.1 1293.4 L1352.7 1295.9 L1352.3 1298.3 L1351.9 1300.8 L1351.5 1303.3 L1351.1 1305.7 L1350.6 1308.2 L1350.2 1310.7 L1349.8 1313.1 L1349.4 1315.6 L1349.0 1318.0 L1348.6 1320.5 L1348.1 1323.0 L1347.7 1325.4 L1347.3 1327.9 L1346.9 1330.3 L1346.4 1332.8 L1346.0 1335.2 L1345.6 1337.7 L1345.2 1340.1 L1344.7 1342.6 L1344.3 1345.0 L1343.9 1347.5 L1343.5 1349.9 L1343.0 1352.4 L1342.6 1354.8 L1342.2 1357.3 L1341.7 1359.7 L1341.3 1362.2 L1340.9 1364.6 L1340.4 1367.0 L1340.0 1369.5 L1339.5 1371.9 L1339.1 1374.4 L1338.7 1376.8 L1338.2 1379.2 L1337.8 1381.7 L1337.3 1384.1 L1336.9 1386.5 L1336.4 1389.0 L1336.0 1391.4 L1335.5 1393.8 L1335.0 1396.3 L1334.5 1398.7 L1334.0 1401.1 L1333.5 1403.6 L1333.0 1406.0 L1332.5 1408.4 L1332.0 1410.9 L1331.4 1413.3 L1330.8 1415.8 L1330.3 1418.2 L1329.7 1420.7 L1329.0 1423.1 L1328.4 1425.6 L1327.7 1428.0 L1327.0 1430.5 L1326.3 1432.9 L1325.6 1435.4 L1324.9 1437.9 L1324.1 1440.3 L1323.3 1442.8 L1322.4 1445.3 L1321.6 1447.8 L1320.7 1450.2 L1319.8 1452.7 L1318.8 1455.2 L1317.8 1457.7 L1316.8 1460.2 L1315.8 1462.7 L1314.7 1465.2 L1313.6 1467.7 L1312.4 1470.2 L1311.2 1472.7 L1310.0 1475.1 L1308.7 1477.4 L1307.4 1479.6 L1306.0 1481.8 L1304.6 1483.9 L1303.2 1485.8 L1301.7 1487.6 L1300.2 1489.3 L1298.7 1490.8 L1297.1 1492.2 L1295.4 1493.4 L1293.7 1494.3 L1292.0 1495.1 L1290.2 1495.7 L1288.4 1496.0 L1286.5 1496.1 L1284.6 1495.9 L1282.6 1495.5 L1280.6 1495.0 L1278.6 1494.2 L1276.6 1493.2 L1274.6 1492.1 L1272.6 1490.8 L1270.5 1489.4 L1268.6 1487.8 L1266.6 1486.1 L1264.7 1484.3 L1262.8 1482.4 L1260.9 1480.5 L1259.1 1478.4 L1257.4 1476.3 L1255.7 1474.2 L1254.1 1472.0 L1252.6 1469.8 L1251.1 1467.6 L1249.7 1465.4 L1248.3 1463.1 L1247.0 1460.9 L1245.7 1458.6 L1244.5 1456.3 L1243.3 1454.0 L1242.1 1451.7 L1241.0 1449.4 L1239.8 1447.1 L1238.7 1444.8 L1237.6 1442.5 L1236.4 1440.2 L1235.3 1437.9 L1234.1 1435.7 L1233.0 1433.4 L1231.8 1431.2 L1230.7 1428.9 L1229.5 1426.7 L1228.3 1424.5 L1227.2 1422.3 L1226.0 1420.0 L1224.8 1417.8 L1223.6 1415.7 L1222.4 1413.5 L1221.2 1411.3 L1220.0 1409.1 L1218.8 1407.0 L1217.5 1404.8 L1216.3 1402.7 L1215.1 1400.5 L1213.8 1398.4 L1212.6 1396.2 L1211.3 1394.1 L1210.0 1392.0 L1208.8 1389.9 L1207.5 1387.8 L1206.2 1385.7 L1204.9 1383.6 L1203.6 1381.5 L1202.2 1379.4 L1200.9 1377.4 L1199.6 1375.3 L1198.2 1373.2 L1196.9 1371.2 L1195.5 1369.1 L1194.1 1367.0 L1192.8 1365.0 L1191.4 1363.0 L1190.0 1360.9 L1188.5 1358.9 L1187.1 1356.9 L1185.7 1354.8 L1184.2 1352.8 L1182.8 1350.8 L1181.3 1348.8 L1179.9 1346.8 L1178.4 1344.8 L1176.9 1342.8 L1175.4 1340.8 L1173.9 1338.8 L1172.4 1336.8 L1170.8 1334.9 L1169.3 1332.9 L1167.7 1330.9 L1166.2 1329.0 L1164.6 1327.0 L1163.0 1325.1 L1161.4 1323.1 L1159.8 1321.2 L1158.2 1319.3 L1156.6 1317.4 L1155.0 1315.4 L1153.4 1313.5 L1151.7 1311.6 L1150.1 1309.7 L1148.4 1307.9 L1146.8 1306.0 L1145.1 1304.1 L1143.4 1302.2 L1141.7 1300.4 L1140.0 1298.5 L1138.3 1296.7 L1136.6 1294.8 L1134.8 1293.0 L1133.1 1291.2 L1131.4 1289.4 L1129.6 1287.6 L1127.8 1285.8 L1126.1 1284.0 L1124.3 1282.2 L1122.5 1280.4 L1120.7 1278.7 L1118.9 1276.9 L1117.1 1275.2 L1115.3 1273.4 L1113.4 1271.7 L1111.6 1270.0 L1109.8 1268.2 L1107.9 1266.5 L1106.0 1264.8 L1104.2 1263.2 L1102.3 1261.5 L1100.4 1259.8 L1098.5 1258.1 L1096.6 1256.5 L1094.7 1254.8 L1092.8 1253.2 L1090.9 1251.6 L1088.9 1250.0 L1087.0 1248.4 L1085.1 1246.8 L1083.1 1245.2 L1081.1 1243.6 L1079.2 1242.1 L1077.2 1240.5 L1075.2 1239.0 L1073.2 1237.4 L1071.2 1235.9 L1069.2 1234.4 L1067.2 1232.9 L1065.2 1231.4 L1063.2 1229.9 L1061.1 1228.5 L1059.1 1227.0 L1057.0 1225.5 L1055.0 1224.1 L1052.9 1222.7 L1050.8 1221.3 L1048.8 1219.9 L1046.7 1218.5 L1044.6 1217.1 L1042.5 1215.7 L1040.4 1214.4 L1038.3 1213.0 L1036.2 1211.7 L1034.1 1210.4 L1031.9 1209.1 L1029.8 1207.8 L1027.6 1206.5 L1025.5 1205.2 L1023.3 1204.0 L1021.2 1202.7 L1019.0 1201.5 L1016.8 1200.2 L1014.7 1199.0 L1012.5 1197.8 L1010.3 1196.6 L1008.1 1195.4 L1005.9 1194.3 L1003.7 1193.1 L1001.5 1192.0 L999.3 1190.8 L997.0 1189.7 L994.8 1188.6 L992.6 1187.5 L990.3 1186.4 L988.1 1185.3 L985.8 1184.2 L983.6 1183.1 L981.3 1182.1 L979.0 1181.0 L976.8 1180.0 L974.5 1179.0 L972.2 1178.0 L969.9 1177.0 L967.6 1176.0 L965.3 1175.0 L963.0 1174.0 L960.7 1173.1 L958.4 1172.1 L956.1 1171.2 L953.8 1170.3 L951.5 1169.4 L949.2 1168.4 L946.8 1167.6 L944.5 1166.7 L942.1 1165.8 L939.8 1164.9 L937.5 1164.1 L935.1 1163.2 L932.8 1162.4 L930.4 1161.5 L928.0 1160.7 L925.7 1159.9 L923.3 1159.1 L920.9 1158.3 L918.5 1157.5 L916.2 1156.8 L913.8 1156.0 L911.4 1155.3 L909.0 1154.5 L906.6 1153.8 L904.2 1153.1 L901.8 1152.4 L899.4 1151.6 L897.0 1151.0 L894.6 1150.3 L892.2 1149.6 L889.8 1148.9 L887.3 1148.3 L884.9 1147.6 L882.5 1147.0 L880.1 1146.3 L877.7 1145.7 L875.2 1145.1 L872.8 1144.5 L870.4 1143.9 L867.9 1143.3 L865.5 1142.7 L863.0 1142.2 L860.6 1141.6 L858.1 1141.1 L855.7 1140.5 L853.2 1140.0 L850.8 1139.4 L848.3 1138.9 L845.9 1138.4 L843.4 1137.9 L841.0 1137.4 L838.5 1136.9 L836.0 1136.5 L833.6 1136.0 L831.1 1135.5 L828.7 1135.1 L826.2 1134.6 L823.7 1134.2 L821.2 1133.8 L818.8 1133.3 L816.3 1132.9 L813.8 1132.5 L811.4 1132.1 L808.9 1131.7 L806.4 1131.3 L803.9 1131.0 L801.4 1130.6 L799.0 1130.3 L796.5 1129.9 L794.0 1129.6 L791.5 1129.3 L789.1 1129.0 L786.6 1128.7 L784.1 1128.4 L781.6 1128.2 L779.1 1127.9 L776.7 1127.8 L774.2 1127.6 L771.7 1127.5 L769.2 1127.3 L766.7 1127.3 L764.3 1127.2 L761.8 1127.2 L759.3 1127.3 L756.8 1127.3 L754.4 1127.5 L751.9 1127.6 L749.4 1127.8 L746.9 1128.1 L744.5 1128.4 L742.0 1128.7 L739.5 1129.0 L737.1 1129.4 L734.6 1129.9 L732.1 1130.3 L729.7 1130.8 L727.2 1131.3 L724.7 1131.8 L722.3 1132.3 L719.8 1132.8 L717.4 1133.4 L714.9 1133.9 L712.4 1134.5 L710.0 1135.0 L707.5 1135.6 L705.0 1136.1 L702.6 1136.6 L700.1 1137.2 L697.6 1137.7 L695.1 1138.2 L692.7 1138.7 L690.2 1139.1 L687.7 1139.6 L685.3 1140.1 L682.8 1140.5 L680.3 1140.9 L677.8 1141.3 L675.3 1141.7 L672.9 1142.1 L670.4 1142.5 L667.9 1142.8 L665.4 1143.2 L662.9 1143.5 L660.5 1143.8 L658.0 1144.1 L655.5 1144.4 L653.0 1144.7 L650.5 1145.0 L648.0 1145.3 L645.6 1145.5 L643.1 1145.8 L640.6 1146.0 L638.1 1146.2 L635.6 1146.4 L633.1 1146.6 L630.6 1146.8 L628.1 1146.9 L625.6 1147.1 L623.2 1147.2 L620.7 1147.3 L618.2 1147.5 L615.7 1147.6 L613.2 1147.7 L610.7 1147.8 L608.2 1147.8 L605.7 1147.9 L603.2 1147.9 L600.7 1148.0 L598.2 1148.0 L595.7 1148.0 L593.2 1148.0 L590.7 1148.0 L588.2 1148.0 L585.7 1148.0 L583.2 1147.9 L580.8 1147.9 L578.3 1147.8 L575.8 1147.8 L573.3 1147.7 L570.8 1147.6 L568.3 1147.5 L565.8 1147.4 L563.3 1147.3 L560.8 1147.1 L558.3 1147.0 L555.8 1146.8 L553.3 1146.7 L550.8 1146.5 L548.3 1146.3 L545.8 1146.1 L543.3 1145.9 L540.8 1145.7 L538.3 1145.5 L535.8 1145.3 L533.3 1145.0 L530.8 1144.8 L528.3 1144.5 L525.9 1144.3 L523.4 1144.0 L520.9 1143.7 L518.4 1143.4 L515.9 1143.1 L513.4 1142.8 L510.9 1142.5 L508.5 1142.2 L506.0 1141.8 L503.5 1141.5 L501.0 1141.2 L498.6 1140.8 L496.1 1140.5 L493.6 1140.1 L491.1 1139.7 L488.7 1139.4 L486.2 1139.0 L483.7 1138.6 L481.3 1138.2 L478.8 1137.8 L476.4 1137.4 L473.9 1137.0 L471.5 1136.6 L469.0 1136.1 L466.6 1135.7 L464.1 1135.3 L461.7 1134.8 L459.3 1134.4 L456.8 1134.0 L454.4 1133.5 L452.0 1133.1" stroke="#000" stroke-width="8"/>
<path d="M2262.4 590.0 L2262.4 630.0" stroke="#000" stroke-width="5"/>
<path d="M456.5 1472.0 L456.5 1469.4 L456.5 1466.8 L456.5 1464.2 L456.5 1461.7 L456.5 1459.1 L456.5 1456.5 L456.5 1454.0 L456.6 1451.4 L456.6 1448.8 L456.6 1446.3 L456.7 1443.8 L456.7 1441.2 L456.8 1438.7 L456.8 1436.2 L456.9 1433.7 L456.9 1431.1 L457.0 1428.6 L457.1 1426.1 L457.1 1423.6 L457.2 1421.1 L457.3 1418.6 L457.4 1416.1 L457.5 1413.7 L457.6 1411.2 L457.7 1408.7 L457.8 1406.2 L457.9 1403.7 L458.0 1401.3 L458.1 1398.8 L458.3 1396.3 L458.4 1393.9 L458.5 1391.4 L458.7 1389.0 L458.8 1386.5 L458.9 1384.0 L459.1 1381.6 L459.3 1379.1 L459.4 1376.7 L459.6 1374.2 L459.7 1371.8 L459.9 1369.4 L460.1 1366.9 L460.3 1364.5 L460.4 1362.0 L460.6 1359.6 L460.8 1357.1 L461.0 1354.7 L461.2 1352.2 L461.4 1349.8 L461.6 1347.3 L461.8 1344.9 L462.0 1342.5 L462.3 1340.0 L462.5 1337.6 L462.7 1335.1 L462.9 1332.7 L463.2 1330.2 L463.4 1327.8 L463.7 1325.3 L463.9 1322.8 L464.1 1320.4 L464.4 1317.9 L464.6 1315.5 L464.9 1313.0 L465.2 1310.5 L465.4 1308.0 L465.7 1305.6 L466.0 1303.1 L466.2 1300.6 L466.5 1298.1 L466.8 1295.6 L467.1 1293.1 L467.4 1290.6 L467.7 1288.1 L468.0 1285.6 L468.3 1283.1 L468.6 1280.6 L468.9 1278.1 L469.2 1275.6 L469.5 1273.1 L469.8 1270.5 L470.1 1268.0 L470.4 1265.4 L470.8 1262.9 L471.1 1260.3 L471.4 1257.8 L471.8 1255.2 L472.1 1252.7 L472.5 1250.1 L472.8 1247.6 L473.2 1245.0 L473.6 1242.4 L474.0 1239.9 L474.4 1237.3 L474.8 1234.8 L475.3 1232.2 L475.7 1229.7 L476.2 1227.1 L476.6 1224.6 L477.1 1222.1 L477.6 1219.6 L478.1 1217.0 L478.7 1214.5 L479.2 1212.0 L479.8 1209.5 L480.4 1207.1 L481.0 1204.6 L481.7 1202.1 L482.3 1199.7 L483.0 1197.2 L483.7 1194.8 L484.4 1192.4 L485.2 1190.0 L486.0 1187.6 L486.8 1185.2 L487.6 1182.9 L488.5 1180.5 L489.4 1178.2 L490.3 1175.9 L491.2 1173.6 L492.2 1171.4 L493.2 1169.1 L494.2 1166.9 L495.3 1164.7 L496.4 1162.5 L497.5 1160.3 L498.7 1158.2 L499.9 1156.1 L501.1 1154.0 L502.4 1151.9 L503.7 1149.9 L505.1 1147.8 L506.4 1145.8 L507.8 1143.8 L509.3 1141.9 L510.7 1139.9 L512.2 1138.0 L513.8 1136.1 L515.3 1134.3 L516.9 1132.4 L518.5 1130.6 L520.1 1128.8 L521.8 1127.0 L523.5 1125.2 L525.2 1123.4 L526.9 1121.7 L528.7 1120.0 L530.5 1118.3 L532.3 1116.6 L534.1 1115.0 L536.0 1113.3 L537.9 1111.7 L539.7 1110.1 L541.7 1108.5 L543.6 1106.9 L545.5 1105.4 L547.5 1103.9 L549.5 1102.3 L551.5 1100.8 L553.5 1099.4 L555.6 1097.9 L557.6 1096.5 L559.7 1095.0 L561.8 1093.6 L563.9 1092.2 L566.0 1090.8 L568.1 1089.5 L570.2 1088.1 L572.4 1086.8 L574.5 1085.4 L576.7 1084.1 L578.8 1082.8 L581.0 1081.5 L583.2 1080.3 L585.4 1079.0 L587.6 1077.8 L589.8 1076.6 L592.0 1075.4 L594.3 1074.2 L596.5 1073.0 L598.7 1071.8 L600.9 1070.6 L603.2 1069.5 L605.4 1068.3 L607.7 1067.2 L609.9 1066.1 L612.2 1065.0 L614.5 1063.9 L616.7 1062.8 L619.0 1061.8 L621.3 1060.7 L623.6 1059.7 L625.9 1058.7 L628.2 1057.7 L630.5 1056.6 L632.8 1055.7 L635.1 1054.7 L637.4 1053.7 L639.7 1052.7 L642.0 1051.8 L644.3 1050.9 L646.7 1049.9 L649.0 1049.0 L651.3 1048.1 L653.7 1047.2 L656.0 1046.3 L658.4 1045.5 L660.7 1044.6 L663.1 1043.7 L665.4 1042.9 L667.8 1042.1 L670.2 1041.2 L672.5 1040.4 L674.9 1039.6 L677.3 1038.8 L679.7 1038.1 L682.0 1037.3 L684.4 1036.5 L686.8 1035.8 L689.2 1035.0 L691.6 1034.3 L694.0 1033.5 L696.4 1032.8 L698.8 1032.1 L701.2 1031.4 L703.6 1030.7 L706.0 1030.0 L708.4 1029.3 L710.9 1028.7 L713.3 1028.0 L715.7 1027.4 L718.1 1026.7 L720.5 1026.1 L723.0 1025.5 L725.4 1024.8 L727.8 1024.2 L730.3 1023.6 L732.7 1023.0 L735.1 1022.4 L737.6 1021.8 L740.0 1021.3 L742.4 1020.7 L744.9 1020.1 L747.3 1019.6 L749.8 1019.0 L752.2 1018.5 L754.7 1017.9 L757.1 1017.4 L759.6 1016.9 L762.0 1016.4 L764.5 1015.9 L766.9 1015.4 L769.4 1014.9 L771.8 1014.4 L774.3 1013.9 L776.8 1013.4 L779.2 1012.9 L781.7 1012.4 L784.1 1012.0 L786.6 1011.5 L789.0 1011.1 L791.5 1010.6 L794.0 1010.2 L796.4 1009.7 L798.9 1009.3 L801.4 1008.9 L803.8 1008.5 L806.3 1008.0 L808.8 1007.6 L811.2 1007.2 L813.7 1006.8 L816.2 1006.4 L818.6 1006.0 L821.1 1005.6 L823.6 1005.2 L826.0 1004.9 L828.5 1004.5 L831.0 1004.1 L833.5 1003.8 L835.9 1003.4 L838.4 1003.0 L840.9 1002.7 L843.3 1002.3 L845.8 1002.0 L848.3 1001.6 L850.8 1001.3 L853.2 1001.0 L855.7 1000.6 L858.2 1000.3 L860.7 1000.0 L863.2 999.7 L865.6 999.4 L868.1 999.1 L870.6 998.8 L873.1 998.5 L875.6 998.2 L878.0 997.9 L880.5 997.6 L883.0 997.3 L885.5 997.0 L888.0 996.7 L890.5 996.4 L892.9 996.2 L895.4 995.9 L897.9 995.6 L900.4 995.4 L902.9 995.1 L905.4 994.8 L907.9 994.6 L910.3 994.3 L912.8 994.1 L915.3 993.8 L917.8 993.6 L920.3 993.3 L922.8 993.1 L925.3 992.9 L927.8 992.6 L930.3 992.4 L932.8 992.2 L935.2 992.0 L937.7 991.7 L940.2 991.5 L942.7 991.3 L945.2 991.1 L947.7 990.9 L950.2 990.6 L952.7 990.4 L955.2 990.2 L957.7 990.0 L960.2 989.8 L962.7 989.6 L965.2 989.4 L967.7 989.2 L970.2 989.0 L972.7 988.8 L975.2 988.6 L977.7 988.4 L980.2 988.2 L982.7 988.0 L985.2 987.8 L987.7 987.7 L990.2 987.5 L992.7 987.3 L995.2 987.1 L997.7 986.9 L1000.2 986.7 L1002.7 986.6 L1005.2 986.4 L1007.7 986.2 L1010.2 986.0 L1012.7 985.8 L1015.2 985.7 L1017.7 985.5 L1020.2 985.3 L1022.7 985.1 L1025.2 985.0 L1027.7 984.8 L1030.2 984.6 L1032.7 984.5 L1035.2 984.3 L1037.7 984.1 L1040.2 983.9 L1042.8 983.8 L1045.3 983.6 L1047.8 983.4 L1050.3 983.3 L1052.8 983.1 L1055.3 982.9 L1057.8 982.8 L1060.3 982.6 L1062.8 982.4 L1065.3 982.2 L1067.8 982.1 L1070.3 981.9 L1072.9 981.7 L1075.4 981.6 L1077.9 981.4 L1080.4 981.2 L1082.9 981.0 L1085.4 980.8 L1087.9 980.7 L1090.4 980.5 L1092.9 980.3 L1095.4 980.1 L1097.9 979.9 L1100.4 979.6 L1102.9 979.4 L1105.4 979.2 L1107.9 978.9 L1110.4 978.7 L1112.9 978.4 L1115.4 978.2 L1117.9 977.9 L1120.4 977.6 L1122.9 977.3 L1125.3 977.0 L1127.8 976.7 L1130.3 976.3 L1132.8 976.0 L1135.2 975.6 L1137.7 975.2 L1140.1 974.8 L1142.6 974.4 L1145.1 973.9 L1147.5 973.5 L1149.9 973.0 L1152.4 972.5 L1154.8 972.0 L1157.2 971.5 L1159.7 970.9 L1162.1 970.4 L1164.5 969.8 L1166.9 969.2 L1169.3 968.5 L1171.7 967.8 L1174.1 967.2 L1176.5 966.5 L1178.9 965.7 L1181.3 965.0 L1183.6 964.2 L1186.0 963.3 L1188.3 962.5 L1190.7 961.6 L1193.0 960.7 L1195.4 959.8 L1197.7 958.9 L1200.0 957.9 L1202.3 956.8 L1204.6 955.8 L1206.9 954.7 L1209.2 953.6 L1211.5 952.4 L1213.7 951.3 L1215.9 950.1 L1218.1 948.8 L1220.3 947.5 L1222.5 946.2 L1224.6 944.9 L1226.7 943.5 L1228.8 942.0 L1230.8 940.6 L1232.8 939.1 L1234.8 937.5 L1236.7 936.0 L1238.6 934.3 L1240.4 932.7 L1242.2 931.0 L1244.0 929.3 L1245.7 927.5 L1247.4 925.7 L1249.0 923.8 L1250.5 921.9 L1252.0 920.0 L1253.5 918.0 L1254.9 916.0 L1256.2 913.9 L1257.5 911.8 L1258.8 909.7 L1260.0 907.5 L1261.2 905.4 L1262.3 903.1 L1263.4 900.9 L1264.5 898.6 L1265.5 896.4 L1266.5 894.1 L1267.5 891.7 L1268.5 889.4 L1269.4 887.0 L1270.3 884.7 L1271.2 882.3 L1272.1 879.9 L1273.0 877.5 L1273.8 875.1 L1274.7 872.7 L1275.5 870.3 L1276.3 868.0 L1277.2 865.6 L1278.0 863.2 L1278.8 860.8 L1279.6 858.4 L1280.4 856.0 L1281.2 853.6 L1282.0 851.2 L1282.8 848.8 L1283.6 846.4 L1284.4 844.0 L1285.2 841.6 L1285.9 839.2 L1286.7 836.8 L1287.4 834.5 L1288.2 832.1 L1288.9 829.7 L1289.7 827.3 L1290.4 824.9 L1291.1 822.5 L1291.8 820.1 L1292.5 817.7 L1293.2 815.3 L1293.9 812.9 L1294.6 810.5 L1295.3 808.1 L1295.9 805.7 L1296.6 803.3 L1297.3 800.8 L1297.9 798.4 L1298.6 796.0 L1299.2 793.6 L1299.8 791.2 L1300.4 788.8 L1301.0 786.4 L1301.6 783.9 L1302.2 781.5 L1302.8 779.1 L1303.4 776.7 L1304.0 774.2 L1304.6 771.8 L1305.1 769.4 L1305.7 767.0 L1306.3 764.5 L1306.8 762.1 L1307.3 759.7 L1307.9 757.2 L1308.4 754.8 L1308.9 752.4 L1309.5 749.9 L1310.0 747.5 L1310.5 745.0 L1311.0 742.6 L1311.5 740.1 L1312.0 737.7 L1312.5 735.3 L1312.9 732.8 L1313.4 730.4 L1313.9 727.9 L1314.3 725.5 L1314.8 723.0 L1315.3 720.6 L1315.7 718.1 L1316.2 715.7 L1316.6 713.2 L1317.0 710.7 L1317.5 708.3 L1317.9 705.8 L1318.3 703.4 L1318.7 700.9 L1319.2 698.4 L1319.6 696.0 L1320.0 693.5 L1320.4 691.1 L1320.8 688.6 L1321.2 686.1 L1321.6 683.7 L1322.0 681.2 L1322.3 678.7 L1322.7 676.2 L1323.1 673.8 L1323.5 671.3 L1323.8 668.8 L1324.2 666.4 L1324.6 663.9 L1324.9 661.4 L1325.3 658.9 L1325.7 656.5 L1326.0 654.0 L1326.4 651.5 L1326.7 649.0 L1327.1 646.6 L1327.4 644.1 L1327.7 641.6 L1328.1 639.1 L1328.4 636.6 L1328.7 634.2 L1329.1 631.7 L1329.4 629.2 L1329.7 626.7 L1330.1 624.2 L1330.4 621.7 L1330.7 619.3 L1331.0 616.8 L1331.3 614.3 L1331.7 611.8 L1332.0 609.3 L1332.3 606.8 L1332.6 604.3 L1332.9 601.8 L1333.2 599.4 L1333.5 596.9 L1333.8 594.4 L1334.1 591.9 L1334.4 589.4 L1334.7 586.9 L1335.0 584.4 L1335.3 581.9 L1335.6 579.4 L1336.0 576.9 L1336.3 574.4 L1336.6 572.0 L1336.9 569.5 L1337.2 567.0 L1337.5 564.5 L1337.8 562.0 L1338.1 559.5 L1338.4 557.0 L1338.6 554.5 L1338.9 552.0 L1339.2 549.5 L1339.5 547.0 L1339.8 544.5 L1340.1 542.0 L1340.4 539.5 L1340.7 537.0 L1341.0 534.6 L1341.3 532.1 L1341.6 529.6 L1341.9 527.1 L1342.2 524.6 L1342.5 522.1 L1342.8 519.6 L1343.1 517.1 L1343.4 514.6 L1343.7 512.1 L1344.0 509.6 L1344.3 507.1 L1344.6 504.6 L1344.9 502.1 L1345.2 499.6 L1345.5 497.1 L1345.8 494.6 L1346.1 492.1 L1346.4 489.6 L1346.8 487.2 L1347.1 484.7 L1347.4 482.2 L1347.7 479.7 L1348.0 477.2 L1348.3 474.7 L1348.6 472.2 L1348.9 469.7 L1349.2 467.2 L1349.5 464.7 L1349.8 462.2 L1350.1 459.7 L1350.4 457.2 L1350.8 454.8 L1351.1 452.3 L1351.4 449.8 L1351.7 447.3 L1352.0 444.8 L1352.3 442.3 L1352.6 439.8 L1353.0 437.3 L1353.3 434.8 L1353.6 432.3 L1353.9 429.9 L1354.3 427.4 L1354.6 424.9 L1354.9 422.4 L1355.2 419.9 L1355.6 417.4 L1355.9 414.9 L1356.2 412.5 L1356.5 410.0 L1356.9 407.5 L1357.2 405.0 L1357.5 402.5 L1357.9 400.0 L1358.2 397.6 L1358.6 395.1 L1358.9 392.6 L1359.2 390.1 L1359.6 387.6 L1359.9 385.2 L1360.3 382.7 L1360.6 380.2 L1361.0 377.7 L1361.3 375.3 L1361.7 372.8 L1362.0 370.3 L1362.4 367.8 L1362.7 365.4 L1363.1 362.9 L1363.5 360.4 L1363.8 357.9 L1364.2 355.5 L1364.6 353.0 L1364.9 350.5 L1365.3 348.1 L1365.7 345.6 L1366.0 343.1 L1366.4 340.7 L1366.8 338.2 L1367.2 335.7 L1367.6 333.3 L1367.9 330.8 L1368.3 328.4 L1368.7 325.9 L1369.1 323.4 L1369.5 321.0 L1369.9 318.5 L1370.3 316.1 L1370.7 313.6 L1371.1 311.2 L1371.5 308.7 L1371.9 306.3 L1372.3 303.8 L1372.7 301.4 L1373.1 298.9 L1373.6 296.5 L1374.0 294.0 L1374.4 291.6 L1374.8 289.1 L1375.2 286.7 L1375.7 284.2 L1376.1 281.8 L1376.5 279.3 L1377.0 276.9 L1377.4 274.5 L1377.8 272.0 L1378.3 269.6 L1378.7 267.2 L1379.2 264.7 L1379.6 262.3 L1380.1 259.9 L1380.5 257.4 L1381.0 255.0 L1381.4 252.6 L1381.9 250.1 L1382.4 247.7 L1382.8 245.3 L1383.3 242.8 L1383.8 240.4 L1384.3 237.9 L1384.7 235.5 L1385.2 233.1 L1385.7 230.6 L1386.2 228.2 L1386.6 225.7 L1387.1 223.2 L1387.6 220.8 L1388.1 218.3 L1388.6 215.9 L1389.1 213.4 L1389.6 210.9 L1390.0 208.4 L1390.5 205.9 L1391.0 203.4 L1391.5 201.0 L1392.0 198.4 L1392.5 195.9 L1393.0 193.4 L1393.5 190.9 L1394.0 188.4 L1394.5 185.8 L1395.0 183.3 L1395.5 180.8 L1396.0 178.2 L1396.5 175.6 L1397.0 173.1 L1397.5 170.5 L1398.1 168.0 L1398.7 165.5 L1399.3 163.0 L1400.1 160.5 L1400.8 158.1 L1401.7 155.8 L1402.7 153.5 L1403.7 151.3 L1404.9 149.2 L1406.2 147.1 L1407.6 145.2 L1409.2 143.4 L1411.0 141.7 L1412.9 140.1 L1415.0 138.7 L1417.2 137.6 L1419.5 136.9 L1421.8 136.9 L1424.1 137.5 L1426.2 138.6 L1428.2 140.2 L1429.9 142.2 L1431.6 144.3 L1433.1 146.5 L1434.5 148.8 L1436.0 151.0 L1437.3 153.2 L1438.6 155.5 L1439.9 157.7 L1441.1 160.0 L1442.3 162.2 L1443.5 164.4 L1444.6 166.7 L1445.7 168.9 L1446.7 171.2 L1447.7 173.4 L1448.7 175.7 L1449.7 178.0 L1450.7 180.2 L1451.6 182.5 L1452.5 184.7 L1453.5 187.0 L1454.4 189.3 L1455.3 191.6 L1456.2 193.8 L1457.1 196.1 L1458.0 198.4 L1458.9 200.7 L1459.7 203.0 L1460.6 205.3 L1461.5 207.6 L1462.4 209.9 L1463.3 212.2 L1464.2 214.5 L1465.1 216.9 L1465.9 219.2 L1466.8 221.5 L1467.7 223.8 L1468.6 226.2 L1469.5 228.5 L1470.4 230.8 L1471.3 233.2 L1472.1 235.5 L1473.0 237.8 L1473.9 240.2 L1474.8 242.5 L1475.7 244.8 L1476.6 247.2 L1477.5 249.5 L1478.4 251.9 L1479.3 254.2 L1480.2 256.6 L1481.1 258.9 L1482.0 261.3 L1482.9 263.6 L1483.8 265.9 L1484.7 268.3 L1485.6 270.6 L1486.5 273.0 L1487.4 275.3 L1488.3 277.7 L1489.3 280.0 L1490.2 282.3 L1491.1 284.7 L1492.1 287.0 L1493.0 289.4 L1493.9 291.7 L1494.9 294.0 L1495.8 296.4 L1496.8 298.7 L1497.8 301.0 L1498.7 303.3 L1499.7 305.6 L1500.7 308.0 L1501.7 310.3 L1502.7 312.6 L1503.7 314.9 L1504.7 317.2 L1505.7 319.5 L1506.7 321.8 L1507.7 324.1 L1508.7 326.4 L1509.8 328.7 L1510.8 331.0 L1511.8 333.2 L1512.9 335.5 L1513.9 337.8 L1515.0 340.0 L1516.1 342.3 L1517.2 344.6 L1518.3 346.8 L1519.4 349.1 L1520.5 351.3 L1521.6 353.5 L1522.7 355.8 L1523.8 358.0 L1525.0 360.2 L1526.1 362.4 L1527.3 364.6 L1528.5 366.8 L1529.6 369.0 L1530.8 371.2 L1532.0 373.4 L1533.2 375.5 L1534.4 377.7 L1535.7 379.9 L1536.9 382.0 L1538.2 384.2 L1539.4 386.3 L1540.7 388.4 L1542.0 390.6 L1543.3 392.7 L1544.6 394.8 L1545.9 396.9 L1547.2 399.0 L1548.6 401.1 L1549.9 403.2 L1551.3 405.3 L1552.7 407.3 L1554.1 409.4 L1555.5 411.5 L1556.9 413.5 L1558.4 415.6 L1559.8 417.6 L1561.3 419.6 L1562.8 421.6 L1564.3 423.6 L1565.8 425.7 L1567.3 427.7 L1568.8 429.6 L1570.4 431.6 L1571.9 433.6 L1573.5 435.6 L1575.1 437.5 L1576.7 439.5 L1578.4 441.4 L1580.0 443.3 L1581.7 445.3 L1583.3 447.2 L1585.0 449.1 L1586.7 451.0 L1588.4 452.8 L1590.2 454.7 L1591.9 456.5 L1593.7 458.4 L1595.4 460.2 L1597.2 462.0 L1599.0 463.8 L1600.8 465.6 L1602.6 467.4 L1604.4 469.2 L1606.3 470.9 L1608.1 472.6 L1610.0 474.4 L1611.8 476.1 L1613.7 477.7 L1615.6 479.4 L1617.5 481.1 L1619.4 482.7 L1621.4 484.3 L1623.3 485.9 L1625.2 487.5 L1627.2 489.1 L1629.2 490.6 L1631.1 492.2 L1633.1 493.7 L1635.1 495.2 L1637.1 496.7 L1639.1 498.2 L1641.2 499.6 L1643.2 501.0 L1645.2 502.5 L1647.3 503.9 L1649.4 505.3 L1651.4 506.6 L1653.5 508.0 L1655.6 509.3 L1657.7 510.7 L1659.8 512.0 L1661.9 513.3 L1664.0 514.6 L1666.1 515.8 L1668.3 517.1 L1670.4 518.3 L1672.6 519.5 L1674.7 520.8 L1676.9 522.0 L1679.0 523.1 L1681.2 524.3 L1683.4 525.5 L1685.6 526.6 L1687.8 527.8 L1690.0 528.9 L1692.2 530.0 L1694.5 531.1 L1696.7 532.2 L1698.9 533.2 L1701.2 534.3 L1703.4 535.3 L1705.7 536.4 L1707.9 537.4 L1710.2 538.4 L1712.5 539.4 L1714.7 540.4 L1717.0 541.4 L1719.3 542.4 L1721.6 543.3 L1723.9 544.3 L1726.2 545.2 L1728.5 546.1 L1730.8 547.1 L1733.1 548.0 L1735.5 548.9 L1737.8 549.7 L1740.1 550.6 L1742.5 551.5 L1744.8 552.4 L1747.2 553.2 L1749.5 554.1 L1751.9 554.9 L1754.2 555.7 L1756.6 556.5 L1759.0 557.4 L1761.3 558.2 L1763.7 559.0 L1766.1 559.7 L1768.5 560.5 L1770.9 561.3 L1773.3 562.1 L1775.6 562.8 L1778.0 563.6 L1780.4 564.3 L1782.8 565.0 L1785.2 565.8 L1787.6 566.5 L1790.1 567.2 L1792.5 567.9 L1794.9 568.6 L1797.3 569.3 L1799.7 570.0 L1802.1 570.7 L1804.6 571.4 L1807.0 572.1 L1809.4 572.8 L1811.8 573.5 L1814.3 574.1 L1816.7 574.8 L1819.1 575.4 L1821.6 576.1 L1824.0 576.7 L1826.4 577.4 L1828.9 578.0 L1831.3 578.7 L1833.7 579.3 L1836.2 579.9 L1838.6 580.6 L1841.1 581.2 L1843.5 581.8 L1845.9 582.4 L1848.4 583.1 L1850.8 583.7 L1853.3 584.3 L1855.7 584.9 L1858.1 585.5 L1860.6 586.1 L1863.0 586.7 L1865.5 587.3 L1867.9 587.9 L1870.3 588.5 L1872.8 589.1 L1875.2 589.7 L1877.7 590.2 L1880.1 590.8 L1882.6 591.4 L1885.0 591.9 L1887.5 592.5 L1889.9 593.1 L1892.4 593.6 L1894.8 594.2 L1897.2 594.7 L1899.7 595.3 L1902.1 595.8 L1904.6 596.3 L1907.0 596.9 L1909.5 597.4 L1911.9 597.9 L1914.4 598.4 L1916.8 598.9 L1919.3 599.4 L1921.8 599.9 L1924.2 600.4 L1926.7 600.9 L1929.1 601.4 L1931.6 601.9 L1934.0 602.4 L1936.5 602.8 L1938.9 603.3 L1941.4 603.8 L1943.9 604.2 L1946.3 604.7 L1948.8 605.1 L1951.2 605.6 L1953.7 606.0 L1956.2 606.4 L1958.6 606.8 L1961.1 607.3 L1963.5 607.7 L1966.0 608.1 L1968.5 608.5 L1970.9 608.9 L1973.4 609.2 L1975.9 609.6 L1978.3 610.0 L1980.8 610.4 L1983.3 610.7 L1985.7 611.1 L1988.2 611.4 L1990.7 611.7 L1993.1 612.1 L1995.6 612.4 L1998.1 612.7 L2000.6 613.0 L2003.0 613.3 L2005.5 613.6 L2008.0 613.9 L2010.5 614.2 L2012.9 614.5 L2015.4 614.8 L2017.9 615.0 L2020.4 615.3 L2022.9 615.5 L2025.3 615.8 L2027.8 616.0 L2030.3 616.2 L2032.8 616.4 L2035.3 616.6 L2037.8 616.8 L2040.3 617.0 L2042.7 617.2 L2045.2 617.4 L2047.7 617.6 L2050.2 617.7 L2052.7 617.9 L2055.2 618.0 L2057.7 618.2 L2060.2 618.3 L2062.7 618.4 L2065.2 618.5 L2067.7 618.6 L2070.2 618.7 L2072.7 618.8 L2075.2 618.9 L2077.7 618.9 L2080.2 619.0 L2082.7 619.0 L2085.2 619.1 L2087.7 619.1 L2090.2 619.1 L2092.7 619.1 L2095.2 619.1 L2097.7 619.1 L2100.2 619.1 L2102.7 619.1 L2105.2 619.1 L2107.7 619.1 L2110.2 619.0 L2112.7 619.0 L2115.2 618.9 L2117.7 618.9 L2120.3 618.8 L2122.8 618.7 L2125.3 618.6 L2127.8 618.6 L2130.3 618.5 L2132.8 618.4 L2135.3 618.2 L2137.8 618.1 L2140.3 618.0 L2142.8 617.9 L2145.3 617.8 L2147.9 617.6 L2150.4 617.5 L2152.9 617.3 L2155.4 617.2 L2157.9 617.0 L2160.4 616.8 L2162.9 616.6 L2165.4 616.5 L2167.9 616.3 L2170.4 616.1 L2172.9 615.9 L2175.4 615.7 L2177.9 615.5 L2180.4 615.3 L2183.0 615.1 L2185.5 614.8 L2188.0 614.6 L2190.5 614.4 L2193.0 614.1 L2195.5 613.9 L2198.0 613.7 L2200.5 613.4 L2203.0 613.1 L2205.4 612.9 L2207.9 612.6 L2210.4 612.4 L2212.9 612.1 L2215.4 611.8 L2217.9 611.5 L2220.4 611.3 L2222.9 611.0 L2225.4 610.7 L2227.9 610.4 L2230.3 610.1 L2232.8 609.8 L2235.3 609.5 L2237.8 609.2 L2240.3 608.9 L2242.7 608.6 L2245.2 608.3 L2247.7 607.9 L2250.2 607.6 L2252.6 607.3 L2255.1 607.0 L2257.6 606.7 L2260.0 606.3 L2262.5 606.0 L2262.0 608.4 L2261.5 610.7 L2260.9 613.1 L2260.3 615.4 L2259.5 617.7 L2258.7 620.0 L2257.8 622.3 L2256.9 624.6 L2255.9 626.8 L2254.8 629.1 L2253.7 631.3 L2252.5 633.5 L2251.3 635.7 L2250.0 637.9 L2248.7 640.1 L2247.3 642.2 L2245.9 644.3 L2244.4 646.4 L2242.9 648.5 L2241.3 650.5 L2239.7 652.5 L2238.0 654.5 L2236.3 656.5 L2234.6 658.4 L2232.8 660.3 L2231.1 662.1 L2229.2 664.0 L2227.4 665.8 L2225.5 667.5 L2223.6 669.2 L2221.7 670.9 L2219.7 672.6 L2217.8 674.2 L2215.8 675.8 L2213.8 677.3 L2211.8 678.8 L2209.8 680.2 L2207.7 681.7 L2205.6 683.0 L2203.6 684.4 L2201.5 685.7 L2199.3 687.0 L2197.2 688.2 L2195.1 689.4 L2192.9 690.6 L2190.7 691.8 L2188.5 692.9 L2186.3 694.0 L2184.1 695.0 L2181.9 696.0 L2179.7 697.0 L2177.4 698.0 L2175.1 698.9 L2172.9 699.9 L2170.6 700.7 L2168.3 701.6 L2166.0 702.5 L2163.6 703.3 L2161.3 704.1 L2159.0 704.8 L2156.6 705.6 L2154.3 706.3 L2151.9 707.0 L2149.5 707.7 L2147.1 708.4 L2144.7 709.0 L2142.3 709.6 L2139.9 710.2 L2137.5 710.8 L2135.1 711.4 L2132.7 712.0 L2130.2 712.5 L2127.8 713.1 L2125.3 713.6 L2122.9 714.1 L2120.4 714.6 L2118.0 715.1 L2115.5 715.5 L2113.0 716.0 L2110.6 716.5 L2108.1 716.9 L2105.6 717.3 L2103.1 717.8 L2100.7 718.2 L2098.2 718.6 L2095.7 719.0 L2093.2 719.4 L2090.7 719.8 L2088.2 720.2 L2085.7 720.6 L2083.2 721.0 L2080.8 721.3 L2078.3 721.7 L2075.8 722.1 L2073.3 722.5 L2070.8 722.9 L2068.3 723.2 L2065.8 723.6 L2063.3 724.0 L2060.9 724.3 L2058.4 724.7 L2055.9 725.0 L2053.4 725.4 L2050.9 725.8 L2048.4 726.1 L2045.9 726.5 L2043.5 726.8 L2041.0 727.2 L2038.5 727.5 L2036.0 727.8 L2033.5 728.2 L2031.0 728.5 L2028.5 728.9 L2026.0 729.2 L2023.6 729.5 L2021.1 729.8 L2018.6 730.2 L2016.1 730.5 L2013.6 730.8 L2011.1 731.1 L2008.7 731.4 L2006.2 731.7 L2003.7 732.1 L2001.2 732.4 L1998.7 732.7 L1996.2 733.0 L1993.7 733.3 L1991.3 733.6 L1988.8 733.9 L1986.3 734.2 L1983.8 734.5 L1981.3 734.7 L1978.8 735.0 L1976.3 735.3 L1973.9 735.6 L1971.4 735.9 L1968.9 736.2 L1966.4 736.4 L1963.9 736.7 L1961.4 737.0 L1958.9 737.2 L1956.5 737.5 L1954.0 737.8 L1951.5 738.0 L1949.0 738.3 L1946.5 738.5 L1944.0 738.8 L1941.5 739.0 L1939.0 739.3 L1936.6 739.5 L1934.1 739.8 L1931.6 740.0 L1929.1 740.3 L1926.6 740.5 L1924.1 740.7 L1921.6 741.0 L1919.1 741.2 L1916.7 741.4 L1914.2 741.6 L1911.7 741.9 L1909.2 742.1 L1906.7 742.3 L1904.2 742.5 L1901.7 742.7 L1899.2 742.9 L1896.7 743.1 L1894.2 743.3 L1891.8 743.6 L1889.3 743.8 L1886.8 744.0 L1884.3 744.1 L1881.8 744.3 L1879.3 744.5 L1876.8 744.7 L1874.3 744.9 L1871.8 745.1 L1869.3 745.3 L1866.8 745.4 L1864.3 745.6 L1861.8 745.8 L1859.4 746.0 L1856.9 746.1 L1854.4 746.3 L1851.9 746.5 L1849.4 746.6 L1846.9 746.8 L1844.4 747.0 L1841.9 747.1 L1839.4 747.3 L1836.9 747.4 L1834.4 747.6 L1831.9 747.7 L1829.4 747.9 L1826.9 748.0 L1824.4 748.1 L1821.9 748.3 L1819.4 748.4 L1816.9 748.6 L1814.4 748.7 L1811.9 748.9 L1809.4 749.0 L1806.9 749.1 L1804.4 749.3 L1801.9 749.4 L1799.4 749.5 L1796.9 749.7 L1794.4 749.8 L1791.9 749.9 L1789.4 750.1 L1786.9 750.2 L1784.4 750.3 L1781.9 750.5 L1779.4 750.6 L1776.9 750.7 L1774.4 750.9 L1771.9 751.0 L1769.4 751.1 L1766.9 751.3 L1764.4 751.4 L1761.9 751.5 L1759.4 751.7 L1756.9 751.8 L1754.4 752.0 L1751.9 752.1 L1749.4 752.2 L1746.9 752.4 L1744.4 752.5 L1741.9 752.7 L1739.4 752.8 L1736.9 753.0 L1734.4 753.1 L1731.9 753.2 L1729.4 753.4 L1726.9 753.6 L1724.4 753.7 L1721.9 753.9 L1719.4 754.0 L1716.9 754.2 L1714.4 754.4 L1711.9 754.5 L1709.4 754.7 L1706.9 754.9 L1704.4 755.0 L1701.9 755.2 L1699.5 755.4 L1697.0 755.6 L1694.5 755.8 L1692.0 755.9 L1689.5 756.1 L1687.0 756.3 L1684.5 756.5 L1682.0 756.7 L1679.5 756.9 L1677.0 757.1 L1674.5 757.3 L1672.0 757.6 L1669.5 757.8 L1667.0 758.0 L1664.5 758.2 L1662.1 758.5 L1659.6 758.7 L1657.1 758.9 L1654.6 759.2 L1652.1 759.4 L1649.6 759.7 L1647.1 759.9 L1644.6 760.2 L1642.1 760.5 L1639.7 760.7 L1637.2 761.0 L1634.7 761.3 L1632.2 761.6 L1629.7 761.9 L1627.2 762.1 L1624.8 762.4 L1622.3 762.8 L1619.8 763.1 L1617.3 763.4 L1614.8 763.7 L1612.3 764.0 L1609.9 764.4 L1607.4 764.7 L1604.9 765.0 L1602.4 765.4 L1600.0 765.8 L1597.5 766.1 L1595.0 766.5 L1592.5 766.9 L1590.1 767.2 L1587.6 767.6 L1585.1 768.0 L1582.6 768.4 L1580.2 768.8 L1577.7 769.2 L1575.2 769.7 L1572.8 770.1 L1570.3 770.5 L1567.8 771.0 L1565.4 771.4 L1562.9 771.9 L1560.4 772.3 L1558.0 772.8 L1555.5 773.3 L1553.0 773.8 L1550.6 774.3 L1548.1 774.8 L1545.7 775.3 L1543.2 775.8 L1540.7 776.3 L1538.3 776.9 L1535.8 777.4 L1533.4 778.0 L1530.9 778.5 L1528.5 779.1 L1526.1 779.7 L1523.6 780.4 L1521.2 781.1 L1518.9 781.7 L1516.5 782.5 L1514.2 783.2 L1511.8 784.1 L1509.5 784.9 L1507.3 785.8 L1505.0 786.8 L1502.8 787.8 L1500.7 788.8 L1498.5 789.9 L1496.5 791.1 L1494.4 792.4 L1492.4 793.7 L1490.4 795.1 L1488.5 796.5 L1486.7 798.1 L1484.9 799.7 L1483.1 801.4 L1481.4 803.2 L1479.7 805.0 L1478.1 806.9 L1476.5 808.9 L1475.0 810.9 L1473.5 813.0 L1472.1 815.1 L1470.7 817.3 L1469.3 819.5 L1468.0 821.7 L1466.7 823.9 L1465.4 826.2 L1464.1 828.5 L1462.9 830.8 L1461.7 833.1 L1460.6 835.4 L1459.4 837.7 L1458.3 840.0 L1457.3 842.4 L1456.2 844.7 L1455.2 847.0 L1454.1 849.4 L1453.2 851.7 L1452.2 854.0 L1451.2 856.4 L1450.3 858.7 L1449.4 861.1 L1448.5 863.5 L1447.7 865.8 L1446.8 868.2 L1446.0 870.6 L1445.2 872.9 L1444.4 875.3 L1443.6 877.7 L1442.9 880.1 L1442.1 882.5 L1441.4 884.9 L1440.7 887.3 L1440.0 889.6 L1439.3 892.0 L1438.6 894.5 L1438.0 896.9 L1437.3 899.3 L1436.7 901.7 L1436.1 904.1 L1435.5 906.5 L1434.9 908.9 L1434.3 911.3 L1433.7 913.8 L1433.2 916.2 L1432.6 918.6 L1432.1 921.0 L1431.5 923.5 L1431.0 925.9 L1430.5 928.3 L1429.9 930.8 L1429.4 933.2 L1428.9 935.6 L1428.4 938.1 L1427.9 940.5 L1427.4 942.9 L1426.9 945.4 L1426.4 947.8 L1426.0 950.3 L1425.5 952.7 L1425.0 955.2 L1424.5 957.6 L1424.0 960.0 L1423.6 962.5 L1423.1 964.9 L1422.6 967.4 L1422.1 969.8 L1421.7 972.3 L1421.2 974.7 L1420.7 977.2 L1420.3 979.6 L1419.8 982.1 L1419.3 984.5 L1418.9 987.0 L1418.4 989.4 L1418.0 991.9 L1417.5 994.3 L1417.0 996.8 L1416.6 999.2 L1416.1 1001.7 L1415.7 1004.1 L1415.2 1006.6 L1414.8 1009.1 L1414.3 1011.5 L1413.9 1014.0 L1413.4 1016.4 L1413.0 1018.9 L1412.6 1021.3 L1412.1 1023.8 L1411.7 1026.2 L1411.2 1028.7 L1410.8 1031.2 L1410.4 1033.6 L1409.9 1036.1 L1409.5 1038.5 L1409.1 1041.0 L1408.6 1043.5 L1408.2 1045.9 L1407.8 1048.4 L1407.4 1050.9 L1406.9 1053.3 L1406.5 1055.8 L1406.1 1058.3 L1405.7 1060.7 L1405.2 1063.2 L1404.8 1065.6 L1404.4 1068.1 L1404.0 1070.6 L1403.6 1073.0 L1403.2 1075.5 L1402.8 1078.0 L1402.3 1080.4 L1401.9 1082.9 L1401.5 1085.4 L1401.1 1087.9 L1400.7 1090.3 L1400.3 1092.8 L1399.9 1095.3 L1399.5 1097.7 L1399.1 1100.2 L1398.7 1102.7 L1398.3 1105.1 L1397.9 1107.6 L1397.5 1110.1 L1397.1 1112.6 L1396.7 1115.0 L1396.3 1117.5 L1395.9 1120.0 L1395.5 1122.4 L1395.1 1124.9 L1394.7 1127.4 L1394.3 1129.9 L1393.9 1132.3 L1393.6 1134.8 L1393.2 1137.3 L1392.8 1139.8 L1392.4 1142.2 L1392.0 1144.7 L1391.6 1147.2 L1391.2 1149.7 L1390.9 1152.1 L1390.5 1154.6 L1390.1 1157.1 L1389.7 1159.6 L1389.3 1162.0 L1389.0 1164.5 L1388.6 1167.0 L1388.2 1169.5 L1387.8 1172.0 L1387.5 1174.4 L1387.1 1176.9 L1386.7 1179.4 L1386.3 1181.9 L1386.0 1184.3 L1385.6 1186.8 L1385.2 1189.3 L1384.8 1191.8 L1384.5 1194.3 L1384.1 1196.7 L1383.7 1199.2 L1383.4 1201.7 L1383.0 1204.2 L1382.6 1206.7 L1382.3 1209.1 L1381.9 1211.6 L1381.6 1214.1 L1381.2 1216.6 L1380.8 1219.1 L1380.5 1221.5 L1380.1 1224.0 L1379.7 1226.5 L1379.4 1229.0 L1379.0 1231.5 L1378.7 1233.9 L1378.3 1236.4 L1378.0 1238.9 L1377.6 1241.4 L1377.2 1243.9 L1376.9 1246.4 L1376.5 1248.8 L1376.2 1251.3 L1375.8 1253.8 L1375.5 1256.3 L1375.1 1258.8 L1374.8 1261.2 L1374.4 1263.7 L1374.1 1266.2 L1373.7 1268.7 L1373.4 1271.2 L1373.0 1273.7 L1372.7 1276.1 L1372.3 1278.6 L1372.0 1281.1 L1371.6 1283.6 L1371.3 1286.1 L1370.9 1288.5 L1370.6 1291.0 L1370.2 1293.5 L1369.9 1296.0 L1369.5 1298.5 L1369.2 1300.9 L1368.8 1303.4 L1368.5 1305.9 L1368.2 1308.4 L1367.8 1310.9 L1367.5 1313.4 L1367.1 1315.8 L1366.8 1318.3 L1366.4 1320.8 L1366.1 1323.3 L1365.8 1325.8 L1365.4 1328.2 L1365.1 1330.7 L1364.7 1333.2 L1364.4 1335.7 L1364.0 1338.2 L1363.7 1340.6 L1363.4 1343.1 L1363.0 1345.6 L1362.7 1348.1 L1362.3 1350.6 L1362.0 1353.0 L1361.7 1355.5 L1361.3 1358.0 L1361.0 1360.5 L1360.6 1362.9 L1360.3 1365.4 L1360.0 1367.9 L1359.6 1370.4 L1359.3 1372.9 L1358.9 1375.3 L1358.6 1377.8 L1358.3 1380.3 L1357.9 1382.8 L1357.6 1385.2 L1357.3 1387.7 L1356.9 1390.2 L1356.6 1392.7 L1356.2 1395.2 L1355.9 1397.6 L1355.6 1400.1 L1355.2 1402.6 L1354.9 1405.1 L1354.5 1407.5 L1354.2 1410.0 L1353.8 1412.5 L1353.5 1415.0 L1353.2 1417.4 L1352.8 1419.9 L1352.5 1422.4 L1352.1 1424.9 L1351.8 1427.3 L1351.4 1429.8 L1351.1 1432.3 L1350.7 1434.8 L1350.4 1437.2 L1350.0 1439.7 L1349.7 1442.2 L1349.3 1444.6 L1349.0 1447.1 L1348.6 1449.6 L1348.3 1452.1 L1347.9 1454.5 L1347.5 1457.0 L1347.2 1459.5 L1346.8 1462.0 L1346.5 1464.4 L1346.1 1466.9 L1345.7 1469.4 L1345.4 1471.8 L1345.0 1474.3 L1344.6 1476.8 L1344.3 1479.2 L1343.9 1481.7 L1343.5 1484.2 L1343.1 1486.7 L1342.8 1489.1 L1342.4 1491.6 L1342.0 1494.1 L1341.6 1496.5 L1341.2 1499.0 L1340.8 1501.5 L1340.4 1504.0 L1340.1 1506.4 L1339.7 1508.9 L1339.3 1511.4 L1338.9 1513.8 L1338.5 1516.3 L1338.1 1518.8 L1337.7 1521.2 L1337.3 1523.7 L1336.8 1526.2 L1336.4 1528.6 L1336.0 1531.1 L1335.6 1533.6 L1335.1 1536.0 L1334.7 1538.5 L1334.2 1541.0 L1333.8 1543.4 L1333.3 1545.9 L1332.8 1548.3 L1332.3 1550.8 L1331.8 1553.2 L1331.3 1555.7 L1330.8 1558.1 L1330.2 1560.6 L1329.7 1563.0 L1329.1 1565.5 L1328.6 1567.9 L1328.0 1570.4 L1327.4 1572.8 L1326.7 1575.2 L1326.1 1577.7 L1325.4 1580.1 L1324.7 1582.5 L1324.0 1584.9 L1323.2 1587.3 L1322.3 1589.7 L1321.3 1592.1 L1320.3 1594.4 L1319.1 1596.8 L1317.8 1599.1 L1316.4 1601.3 L1314.8 1603.6 L1313.0 1605.7 L1311.2 1607.8 L1309.3 1609.6 L1307.3 1611.1 L1305.2 1612.4 L1303.2 1613.2 L1301.2 1613.6 L1299.2 1613.4 L1297.3 1612.8 L1295.4 1611.7 L1293.6 1610.3 L1291.9 1608.5 L1290.2 1606.5 L1288.6 1604.4 L1287.1 1602.1 L1285.6 1599.9 L1284.2 1597.6 L1282.9 1595.2 L1281.7 1592.9 L1280.5 1590.6 L1279.3 1588.2 L1278.2 1585.8 L1277.1 1583.4 L1276.1 1581.1 L1275.1 1578.7 L1274.1 1576.3 L1273.1 1573.9 L1272.1 1571.6 L1271.1 1569.3 L1270.2 1566.9 L1269.2 1564.6 L1268.3 1562.3 L1267.4 1559.9 L1266.5 1557.6 L1265.6 1555.3 L1264.7 1553.0 L1263.8 1550.7 L1262.9 1548.4 L1262.0 1546.2 L1261.1 1543.9 L1260.3 1541.6 L1259.4 1539.3 L1258.6 1537.0 L1257.7 1534.7 L1256.9 1532.4 L1256.0 1530.1 L1255.2 1527.9 L1254.4 1525.6 L1253.5 1523.3 L1252.7 1521.0 L1251.9 1518.7 L1251.1 1516.4 L1250.2 1514.1 L1249.4 1511.8 L1248.6 1509.4 L1247.8 1507.1 L1246.9 1504.8 L1246.1 1502.5 L1245.3 1500.1 L1244.5 1497.8 L1243.7 1495.4 L1242.8 1493.1 L1242.0 1490.7 L1241.2 1488.4 L1240.3 1486.0 L1239.5 1483.7 L1238.7 1481.3 L1237.8 1478.9 L1237.0 1476.6 L1236.2 1474.2 L1235.3 1471.8 L1234.5 1469.4 L1233.6 1467.1 L1232.8 1464.7 L1231.9 1462.3 L1231.1 1459.9 L1230.2 1457.6 L1229.3 1455.2 L1228.5 1452.8 L1227.6 1450.4 L1226.7 1448.0 L1225.8 1445.7 L1224.9 1443.3 L1224.0 1440.9 L1223.1 1438.5 L1222.2 1436.2 L1221.3 1433.8 L1220.4 1431.4 L1219.5 1429.0 L1218.5 1426.7 L1217.6 1424.3 L1216.6 1422.0 L1215.7 1419.6 L1214.7 1417.2 L1213.8 1414.9 L1212.8 1412.5 L1211.8 1410.2 L1210.8 1407.9 L1209.8 1405.5 L1208.8 1403.2 L1207.8 1400.9 L1206.8 1398.6 L1205.7 1396.2 L1204.7 1393.9 L1203.6 1391.6 L1202.6 1389.3 L1201.5 1387.0 L1200.4 1384.8 L1199.3 1382.5 L1198.2 1380.2 L1197.1 1378.0 L1196.0 1375.7 L1194.8 1373.4 L1193.7 1371.2 L1192.5 1369.0 L1191.4 1366.7 L1190.2 1364.5 L1189.0 1362.3 L1187.8 1360.1 L1186.6 1357.9 L1185.3 1355.8 L1184.1 1353.6 L1182.8 1351.4 L1181.6 1349.3 L1180.3 1347.1 L1179.0 1345.0 L1177.7 1342.9 L1176.4 1340.8 L1175.0 1338.7 L1173.7 1336.6 L1172.3 1334.5 L1170.9 1332.4 L1169.6 1330.4 L1168.2 1328.3 L1166.7 1326.3 L1165.3 1324.3 L1163.9 1322.2 L1162.4 1320.2 L1161.0 1318.2 L1159.5 1316.2 L1158.0 1314.3 L1156.5 1312.3 L1155.0 1310.3 L1153.5 1308.4 L1152.0 1306.5 L1150.4 1304.5 L1148.9 1302.6 L1147.3 1300.7 L1145.7 1298.8 L1144.1 1296.9 L1142.5 1295.0 L1140.9 1293.2 L1139.3 1291.3 L1137.6 1289.5 L1136.0 1287.6 L1134.3 1285.8 L1132.7 1284.0 L1131.0 1282.2 L1129.3 1280.4 L1127.6 1278.6 L1125.9 1276.8 L1124.2 1275.0 L1122.4 1273.3 L1120.7 1271.5 L1118.9 1269.8 L1117.2 1268.0 L1115.4 1266.3 L1113.6 1264.6 L1111.8 1262.9 L1110.0 1261.2 L1108.2 1259.5 L1106.4 1257.8 L1104.6 1256.2 L1102.7 1254.5 L1100.9 1252.9 L1099.0 1251.2 L1097.1 1249.6 L1095.3 1248.0 L1093.4 1246.4 L1091.5 1244.8 L1089.6 1243.2 L1087.7 1241.6 L1085.7 1240.0 L1083.8 1238.5 L1081.9 1236.9 L1079.9 1235.4 L1077.9 1233.9 L1076.0 1232.3 L1074.0 1230.8 L1072.0 1229.3 L1070.0 1227.8 L1068.0 1226.3 L1066.0 1224.8 L1064.0 1223.4 L1062.0 1221.9 L1060.0 1220.5 L1057.9 1219.0 L1055.9 1217.6 L1053.8 1216.2 L1051.8 1214.7 L1049.7 1213.3 L1047.6 1211.9 L1045.5 1210.6 L1043.4 1209.2 L1041.3 1207.8 L1039.2 1206.4 L1037.1 1205.1 L1035.0 1203.8 L1032.9 1202.4 L1030.7 1201.1 L1028.6 1199.8 L1026.5 1198.5 L1024.3 1197.2 L1022.1 1195.9 L1020.0 1194.6 L1017.8 1193.3 L1015.6 1192.1 L1013.5 1190.8 L1011.3 1189.6 L1009.1 1188.3 L1006.9 1187.1 L1004.7 1185.9 L1002.4 1184.7 L1000.2 1183.5 L998.0 1182.3 L995.8 1181.1 L993.5 1179.9 L991.3 1178.8 L989.1 1177.6 L986.8 1176.4 L984.6 1175.3 L982.3 1174.2 L980.0 1173.0 L977.8 1171.9 L975.5 1170.8 L973.2 1169.7 L970.9 1168.6 L968.6 1167.5 L966.3 1166.5 L964.1 1165.4 L961.7 1164.4 L959.4 1163.3 L957.1 1162.3 L954.8 1161.2 L952.5 1160.2 L950.2 1159.2 L947.9 1158.2 L945.5 1157.2 L943.2 1156.2 L940.9 1155.2 L938.5 1154.3 L936.2 1153.3 L933.8 1152.4 L931.5 1151.4 L929.1 1150.5 L926.8 1149.6 L924.4 1148.7 L922.0 1147.8 L919.7 1146.9 L917.3 1146.0 L914.9 1145.1 L912.5 1144.3 L910.2 1143.4 L907.8 1142.6 L905.4 1141.8 L903.0 1141.0 L900.6 1140.2 L898.2 1139.4 L895.8 1138.6 L893.4 1137.8 L891.0 1137.1 L888.6 1136.3 L886.2 1135.6 L883.8 1134.9 L881.4 1134.2 L879.0 1133.5 L876.5 1132.8 L874.1 1132.2 L871.7 1131.5 L869.3 1130.9 L866.8 1130.3 L864.4 1129.7 L862.0 1129.1 L859.5 1128.5 L857.1 1127.9 L854.7 1127.3 L852.2 1126.8 L849.8 1126.3 L847.3 1125.8 L844.9 1125.3 L842.4 1124.8 L840.0 1124.3 L837.5 1123.9 L835.1 1123.4 L832.6 1123.0 L830.2 1122.6 L827.7 1122.2 L825.3 1121.8 L822.8 1121.5 L820.3 1121.1 L817.9 1120.8 L815.4 1120.5 L812.9 1120.2 L810.5 1119.9 L808.0 1119.7 L805.5 1119.4 L803.1 1119.2 L800.6 1119.0 L798.1 1118.8 L795.7 1118.6 L793.2 1118.4 L790.7 1118.3 L788.3 1118.2 L785.8 1118.1 L783.3 1118.0 L780.8 1117.9 L778.4 1117.8 L775.9 1117.8 L773.4 1117.8 L770.9 1117.8 L768.5 1117.8 L766.0 1117.9 L763.5 1117.9 L761.0 1118.0 L758.6 1118.1 L756.1 1118.2 L753.6 1118.3 L751.1 1118.5 L748.6 1118.7 L746.2 1118.9 L743.7 1119.1 L741.2 1119.3 L738.7 1119.5 L736.3 1119.8 L733.8 1120.1 L731.3 1120.4 L728.8 1120.7 L726.4 1121.0 L723.9 1121.3 L721.4 1121.7 L718.9 1122.0 L716.5 1122.4 L714.0 1122.8 L711.5 1123.2 L709.0 1123.6 L706.6 1124.0 L704.1 1124.4 L701.6 1124.8 L699.1 1125.2 L696.7 1125.6 L694.2 1126.1 L691.7 1126.5 L689.2 1127.0 L686.8 1127.4 L684.3 1127.9 L681.8 1128.3 L679.3 1128.8 L676.9 1129.2 L674.4 1129.7 L671.9 1130.1 L669.4 1130.6 L667.0 1131.0 L664.5 1131.5 L662.0 1131.9 L659.5 1132.3 L657.1 1132.8 L654.6 1133.2 L652.1 1133.6 L649.6 1134.0 L647.2 1134.4 L644.7 1134.8 L642.2 1135.2 L639.7 1135.6 L637.2 1135.9 L634.8 1136.3 L632.3 1136.6 L629.8 1137.0 L627.3 1137.3 L624.8 1137.6 L622.4 1137.9 L619.9 1138.2 L617.4 1138.4 L614.9 1138.7 L612.4 1138.9 L609.9 1139.1 L607.5 1139.3 L605.0 1139.5 L602.5 1139.7 L600.0 1139.8 L597.5 1139.9 L595.0 1140.0 L592.6 1140.1 L590.1 1140.1 L587.6 1140.2 L585.1 1140.2 L582.6 1140.2 L580.1 1140.2 L577.6 1140.2 L575.1 1140.1 L572.7 1140.1 L570.2 1140.0 L567.7 1139.9 L565.2 1139.8 L562.7 1139.7 L560.2 1139.6 L557.7 1139.4 L555.2 1139.3 L552.7 1139.1 L550.2 1139.0 L547.7 1138.8 L545.3 1138.6 L542.8 1138.4 L540.3 1138.2 L537.8 1138.0 L535.3 1137.7 L532.8 1137.5 L530.3 1137.3 L527.8 1137.0 L525.3 1136.8 L522.8 1136.5 L520.3 1136.3 L517.8 1136.0 L515.3 1135.7 L512.8 1135.5 L510.3 1135.2 L507.9 1134.9 L505.4 1134.7 L502.9 1134.4 L500.4 1134.1 L497.9 1133.8 L495.4 1133.6 L492.9 1133.3 L490.4 1133.0 L487.9 1132.8 L485.4 1132.5 L482.9 1132.2 L480.4 1132.0 L477.9 1131.7 L475.4 1131.5 L472.9 1131.2 L470.4 1131.0 L468.0 1130.7 L465.5 1130.5 L463.0 1130.3 L460.5 1130.1 L458.0 1129.9 L455.5 1129.7 L453.0 1129.5 L467.9 1103.3" stroke="#0000ff" stroke-width="8"/>
</g>
<rect x="333.0" y="90.0" width="2048.5" height="1585.5" fill="none" stroke="#000" stroke-width="12.0" stroke-linejoin="miter"/>
<g fill="#000"><rect x="333.0" y="1637.9" width="36.0" height="12" rx="2.5"/><rect x="333.0" y="1508.3" width="21.0" height="12" rx="2.5"/><rect x="333.0" y="1378.8" width="36.0" height="12" rx="2.5"/><rect x="333.0" y="1249.3" width="21.0" height="12" rx="2.5"/><rect x="333.0" y="1119.8" width="36.0" height="12" rx="2.5"/><rect x="333.0" y="990.2" width="21.0" height="12" rx="2.5"/><rect x="333.0" y="860.7" width="36.0" height="12" rx="2.5"/><rect x="333.0" y="731.2" width="21.0" height="12" rx="2.5"/><rect x="333.0" y="601.6" width="36.0" height="12" rx="2.5"/><rect x="333.0" y="472.1" width="21.0" height="12" rx="2.5"/><rect x="333.0" y="342.6" width="36.0" height="12" rx="2.5"/><rect x="333.0" y="213.1" width="21.0" height="12" rx="2.5"/><rect x="447.7" y="1653.0" width="12" height="22.5" rx="2.5"/><rect x="568.1" y="1638.0" width="12" height="37.5" rx="2.5"/><rect x="688.5" y="1653.0" width="12" height="22.5" rx="2.5"/><rect x="808.9" y="1638.0" width="12" height="37.5" rx="2.5"/><rect x="929.3" y="1653.0" width="12" height="22.5" rx="2.5"/><rect x="1049.7" y="1638.0" width="12" height="37.5" rx="2.5"/><rect x="1170.1" y="1653.0" width="12" height="22.5" rx="2.5"/><rect x="1290.5" y="1638.0" width="12" height="37.5" rx="2.5"/><rect x="1410.9" y="1653.0" width="12" height="22.5" rx="2.5"/><rect x="1531.3" y="1638.0" width="12" height="37.5" rx="2.5"/><rect x="1651.7" y="1653.0" width="12" height="22.5" rx="2.5"/><rect x="1772.1" y="1638.0" width="12" height="37.5" rx="2.5"/><rect x="1892.5" y="1653.0" width="12" height="22.5" rx="2.5"/><rect x="2012.9" y="1638.0" width="12" height="37.5" rx="2.5"/><rect x="2133.3" y="1653.0" width="12" height="22.5" rx="2.5"/><rect x="2253.7" y="1638.0" width="12" height="37.5" rx="2.5"/></g>
<text transform="translate(300.5 1669.9) scale(1.0000 1.0450)" font-size="92.0" text-anchor="end">-120</text>
<text transform="translate(300.5 1410.8) scale(1.0000 1.0450)" font-size="92.0" text-anchor="end">-80</text>
<text transform="translate(300.5 1151.8) scale(1.0000 1.0450)" font-size="92.0" text-anchor="end">-40</text>
<text transform="translate(300.5 892.7) scale(1.0000 1.0450)" font-size="92.0" text-anchor="end">0</text>
<text transform="translate(300.5 633.6) scale(1.0000 1.0450)" font-size="92.0" text-anchor="end">40</text>
<text transform="translate(300.5 374.6) scale(1.0000 1.0450)" font-size="92.0" text-anchor="end">80</text>
<text transform="translate(300.5 115.5) scale(1.0000 1.0450)" font-size="92.0" text-anchor="end">120</text>
<text transform="translate(333.3 1781.0) scale(1.0000 1.0450)" font-size="92.0" text-anchor="middle">-0.6</text>
<text transform="translate(574.1 1781.0) scale(1.0000 1.0450)" font-size="92.0" text-anchor="middle">-0.4</text>
<text transform="translate(814.9 1781.0) scale(1.0000 1.0450)" font-size="92.0" text-anchor="middle">-0.2</text>
<text transform="translate(1055.7 1781.0) scale(1.0000 1.0450)" font-size="92.0" text-anchor="middle">0.0</text>
<text transform="translate(1296.5 1781.0) scale(1.0000 1.0450)" font-size="92.0" text-anchor="middle">0.2</text>
<text transform="translate(1537.3 1781.0) scale(1.0000 1.0450)" font-size="92.0" text-anchor="middle">0.4</text>
<text transform="translate(1778.1 1781.0) scale(1.0000 1.0450)" font-size="92.0" text-anchor="middle">0.6</text>
<text transform="translate(2018.9 1781.0) scale(1.0000 1.0450)" font-size="92.0" text-anchor="middle">0.8</text>
<text transform="translate(2259.7 1781.0) scale(1.0000 1.0450)" font-size="92.0" text-anchor="middle">1.0</text>
<text transform="translate(940.5 1896.5) scale(1.0000 1.0130)" font-size="114.5" text-anchor="start"><tspan font-style="italic">E</tspan> / V <tspan font-style="italic">vs</tspan>. Ag/AgCl</text>
<text transform="translate(128.5 1014.0) rotate(-90) scale(1.0000 1.0200)" font-size="114.0" text-anchor="start"><tspan font-style="italic">I</tspan> / &#956;A</text>
<path d="M399 212.3 H580" stroke="#000" stroke-width="4" stroke-dasharray="23 16.5" fill="none"/>
<path d="M403 315.5 H590" stroke="#000" stroke-width="9" fill="none" stroke-linecap="round"/>
<path d="M403 420.5 H590" stroke="#0000ff" stroke-width="9" fill="none" stroke-linecap="round"/>
<text transform="translate(611.0 241.4) scale(1.0000 1.0000)" font-size="85.1" text-anchor="start">GC/GO</text>
<text transform="translate(611.0 345.3) scale(1.0000 1.0000)" font-size="85.1" text-anchor="start">GC/rGO</text>
<text transform="translate(611.0 448.4) scale(1.0000 1.0000)" font-size="85.1" text-anchor="start">GC/rGO-CuNPs</text>
<path d="M1488 131.3 H1689" stroke="#000" stroke-width="4" fill="none"/>
<path d="M1446.4 131.3 L1489 115.5 L1489 147.1 Z" fill="#000"/>
<text transform="translate(1717.5 168.5) scale(1.0000 1.0000)" font-size="85.0" text-anchor="start">305.74 mV</text>
<path d="M1390 1588.7 H1591" stroke="#000" stroke-width="4" fill="none"/>
<path d="M1347.6 1588.7 L1392 1573.5 L1392 1604 Z" fill="#000"/>
<text transform="translate(1628.0 1599.5) scale(1.0000 1.0000)" font-size="85.0" text-anchor="start">202.84 mV</text>
</svg>
</body></html>
